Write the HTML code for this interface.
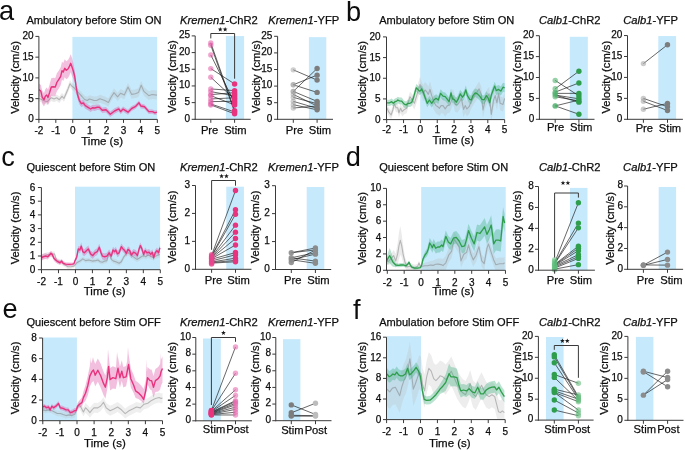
<!DOCTYPE html>
<html><head><meta charset="utf-8"><style>
html,body{margin:0;padding:0;background:#fff;}
svg{display:block;will-change:transform;}
text{font-family:"Liberation Sans", sans-serif;fill:#0d0d0d;stroke:#0d0d0d;stroke-width:0.25px;}
</style></head><body>
<svg width="685" height="450" viewBox="0 0 685 450">
<text x="-0.90" y="20.20" font-size="27.2" text-anchor="start" style="stroke-width:0">a</text>
<text x="346.00" y="20.70" font-size="27.2" text-anchor="start" style="stroke-width:0">b</text>
<text x="1.30" y="165.60" font-size="27.2" text-anchor="start" style="stroke-width:0">c</text>
<text x="345.70" y="166.00" font-size="27.2" text-anchor="start" style="stroke-width:0">d</text>
<text x="2.50" y="317.50" font-size="27.2" text-anchor="start" style="stroke-width:0">e</text>
<text x="353.10" y="318.60" font-size="27.2" text-anchor="start" style="stroke-width:0">f</text>
<text x="26.40" y="23.60" font-size="11.05" text-anchor="start" >Ambulatory before Stim ON</text>
<text x="180.00" y="23.60" font-size="11.2"><tspan font-style="italic">Kremen1</tspan>-ChR2</text>
<text x="268.30" y="23.60" font-size="11.2"><tspan font-style="italic">Kremen1</tspan>-YFP</text>
<text x="379.20" y="23.60" font-size="11.05" text-anchor="start" >Ambulatory before Stim ON</text>
<text x="538.90" y="23.60" font-size="11.2"><tspan font-style="italic">Calb1</tspan>-ChR2</text>
<text x="623.20" y="23.60" font-size="11.2"><tspan font-style="italic">Calb1</tspan>-YFP</text>
<text x="26.40" y="171.20" font-size="11.05" text-anchor="start" >Quiescent before Stim ON</text>
<text x="180.10" y="170.90" font-size="11.2"><tspan font-style="italic">Kremen1</tspan>-ChR2</text>
<text x="268.00" y="170.90" font-size="11.2"><tspan font-style="italic">Kremen1</tspan>-YFP</text>
<text x="379.20" y="170.80" font-size="11.05" text-anchor="start" >Quiescent before Stim ON</text>
<text x="538.90" y="170.90" font-size="11.2"><tspan font-style="italic">Calb1</tspan>-ChR2</text>
<text x="623.10" y="170.90" font-size="11.2"><tspan font-style="italic">Calb1</tspan>-YFP</text>
<text x="26.40" y="325.60" font-size="11.05" text-anchor="start" >Quiescent before Stim OFF</text>
<text x="180.10" y="325.60" font-size="11.2"><tspan font-style="italic">Kremen1</tspan>-ChR2</text>
<text x="268.00" y="325.60" font-size="11.2"><tspan font-style="italic">Kremen1</tspan>-YFP</text>
<text x="379.20" y="325.50" font-size="11.05" text-anchor="start" >Ambulation before Stim OFF</text>
<text x="538.90" y="325.60" font-size="11.2"><tspan font-style="italic">Calb1</tspan>-ChR2</text>
<text x="623.10" y="325.60" font-size="11.2"><tspan font-style="italic">Calb1</tspan>-YFP</text>
<rect x="72.40" y="36.90" width="84.80" height="82.50" fill="#c6e9fb"/>
<clipPath id="c25"><rect x="38.90" y="30.40" width="120.44" height="88.70"/></clipPath>
<g clip-path="url(#c25)">
<polygon points="39.0,95.3 42.0,96.7 44.7,97.9 47.3,98.6 49.3,96.5 51.3,94.5 54.0,95.8 56.7,94.4 59.3,96.4 62.0,93.0 64.0,94.9 66.0,90.3 68.0,85.6 70.0,80.2 72.0,82.8 74.0,84.2 76.7,87.4 79.3,90.1 82.0,92.8 84.7,95.8 87.3,96.7 89.3,95.2 91.3,95.7 94.0,96.6 96.7,96.6 99.9,94.7 104.8,96.6 108.4,98.3 110.9,93.4 114.0,88.5 117.6,92.7 120.7,89.0 124.3,90.9 128.0,82.9 131.7,90.1 135.3,89.5 138.4,88.3 141.2,80.9 143.9,87.0 148.8,91.3 152.0,90.0 156.9,90.6 156.9,99.6 152.0,99.0 148.8,100.1 143.9,95.8 141.2,89.7 138.4,96.9 135.3,98.1 131.7,98.7 128.0,91.3 124.3,99.3 120.7,97.4 117.6,101.1 114.0,96.7 110.9,101.6 108.4,106.5 104.8,104.6 99.9,102.7 96.7,104.4 94.0,104.4 91.3,103.3 89.3,102.8 87.3,104.3 84.7,103.2 82.0,100.2 79.3,97.3 76.7,94.6 74.0,91.2 72.0,89.8 70.0,87.2 68.0,92.4 66.0,97.1 64.0,101.7 62.0,99.6 59.3,103.0 56.7,101.0 54.0,102.2 51.3,100.9 49.3,102.9 47.3,104.8 44.7,104.1 42.0,102.7 39.0,101.3" fill="#b8b8b8" fill-opacity="0.28" stroke="none"/><polyline points="39.0,98.3 42.0,99.7 44.7,101.0 47.3,101.7 49.3,99.7 51.3,97.7 54.0,99.0 56.7,97.7 59.3,99.7 62.0,96.3 64.0,98.3 66.0,93.7 68.0,89.0 70.0,83.7 72.0,86.3 74.0,87.7 76.7,91.0 79.3,93.7 82.0,96.5 84.7,99.5 87.3,100.5 89.3,99.0 91.3,99.5 94.0,100.5 96.7,100.5 99.9,98.7 104.8,100.6 108.4,102.4 110.9,97.5 114.0,92.6 117.6,96.9 120.7,93.2 124.3,95.1 128.0,87.1 131.7,94.4 135.3,93.8 138.4,92.6 141.2,85.3 143.9,91.4 148.8,95.7 152.0,94.5 156.9,95.1" fill="none" stroke="#7a7a7a" stroke-width="1.1" stroke-opacity="0.47" stroke-linejoin="round"/>
<polygon points="39.0,83.5 40.9,85.0 42.3,90.9 44.0,92.9 45.3,89.2 46.7,87.5 48.0,89.5 49.7,84.0 51.3,78.2 53.3,77.7 55.3,78.0 56.9,73.3 58.7,70.7 60.7,67.3 62.0,61.7 63.3,63.1 64.7,59.3 66.3,61.3 68.0,60.0 69.3,57.7 70.7,54.3 72.0,58.0 73.3,63.3 74.7,70.0 76.0,80.7 77.3,89.1 79.3,96.4 81.3,100.5 83.3,100.0 85.3,102.7 88.0,104.4 90.7,106.1 92.7,104.8 94.7,105.1 97.3,104.5 99.3,104.5 102.3,107.5 106.0,107.0 110.3,111.6 114.6,108.3 118.8,106.3 120.7,109.0 123.1,106.5 128.0,109.7 131.7,106.0 135.3,104.3 139.0,100.4 140.8,103.6 144.5,104.4 148.8,109.3 152.5,109.4 154.9,110.6 156.9,110.0 156.9,114.4 154.9,115.0 152.5,113.8 148.8,113.9 144.5,109.0 140.8,108.4 139.0,105.2 135.3,109.1 131.7,111.0 128.0,114.7 123.1,111.7 120.7,114.2 118.8,111.5 114.6,113.7 110.3,117.0 106.0,112.4 102.3,113.1 99.3,110.1 97.3,110.1 94.7,110.9 92.7,110.6 90.7,111.9 88.0,110.2 85.3,108.7 83.3,106.0 81.3,106.9 79.3,104.2 77.3,98.3 76.0,90.7 74.7,82.6 73.3,78.7 72.0,76.0 70.7,72.3 69.3,75.7 68.0,78.0 66.3,79.3 64.7,77.3 63.3,81.1 62.0,79.7 60.7,85.3 58.7,88.7 56.9,91.3 55.3,96.0 53.3,95.7 51.3,95.8 49.7,100.6 48.0,105.3 46.7,102.5 45.3,103.4 44.0,106.5 42.3,104.0 40.9,97.6 39.0,95.5" fill="#dc5aa8" fill-opacity="0.38" stroke="none"/><polyline points="39.0,89.5 40.9,91.3 42.3,97.4 44.0,99.7 45.3,96.3 46.7,95.0 48.0,97.4 49.7,92.3 51.3,87.0 53.3,86.7 55.3,87.0 56.9,82.3 58.7,79.7 60.7,76.3 62.0,70.7 63.3,72.1 64.7,68.3 66.3,70.3 68.0,69.0 69.3,66.7 70.7,63.3 72.0,67.0 73.3,71.0 74.7,76.3 76.0,85.7 77.3,93.7 79.3,100.3 81.3,103.7 83.3,103.0 85.3,105.7 88.0,107.3 90.7,109.0 92.7,107.7 94.7,108.0 97.3,107.3 99.3,107.3 102.3,110.3 106.0,109.7 110.3,114.3 114.6,111.0 118.8,108.9 120.7,111.6 123.1,109.1 128.0,112.2 131.7,108.5 135.3,106.7 139.0,102.8 140.8,106.0 144.5,106.7 148.8,111.6 152.5,111.6 154.9,112.8 156.9,112.2" fill="none" stroke="#e8337f" stroke-width="1.4" stroke-opacity="1.0" stroke-linejoin="round"/>
</g>
<line x1="38.90" y1="36.40" x2="38.90" y2="119.90" stroke="#3a3a3a" stroke-width="1" />
<line x1="35.40" y1="119.40" x2="38.90" y2="119.40" stroke="#3a3a3a" stroke-width="1" />
<text x="33.70" y="122.40" font-size="10.0" text-anchor="end" >0</text>
<line x1="35.40" y1="98.65" x2="38.90" y2="98.65" stroke="#3a3a3a" stroke-width="1" />
<text x="33.70" y="101.65" font-size="10.0" text-anchor="end" >5</text>
<line x1="35.40" y1="77.90" x2="38.90" y2="77.90" stroke="#3a3a3a" stroke-width="1" />
<text x="33.70" y="80.90" font-size="10.0" text-anchor="end" >10</text>
<line x1="35.40" y1="57.15" x2="38.90" y2="57.15" stroke="#3a3a3a" stroke-width="1" />
<text x="33.70" y="60.15" font-size="10.0" text-anchor="end" >15</text>
<line x1="35.40" y1="36.40" x2="38.90" y2="36.40" stroke="#3a3a3a" stroke-width="1" />
<text x="33.70" y="39.40" font-size="10.0" text-anchor="end" >20</text>
<text x="0" y="0" font-size="11.2" text-anchor="middle" transform="translate(18.80,77.50) rotate(-90)">Velocity (cm/s)</text>
<line x1="38.40" y1="119.40" x2="157.34" y2="119.40" stroke="#3a3a3a" stroke-width="1" />
<line x1="38.90" y1="119.40" x2="38.90" y2="122.90" stroke="#3a3a3a" stroke-width="1" />
<text x="38.90" y="134.40" font-size="10.0" text-anchor="middle" >-2</text>
<line x1="55.82" y1="119.40" x2="55.82" y2="122.90" stroke="#3a3a3a" stroke-width="1" />
<text x="55.82" y="134.40" font-size="10.0" text-anchor="middle" >-1</text>
<line x1="72.74" y1="119.40" x2="72.74" y2="122.90" stroke="#3a3a3a" stroke-width="1" />
<text x="72.74" y="134.40" font-size="10.0" text-anchor="middle" >0</text>
<line x1="89.66" y1="119.40" x2="89.66" y2="122.90" stroke="#3a3a3a" stroke-width="1" />
<text x="89.66" y="134.40" font-size="10.0" text-anchor="middle" >1</text>
<line x1="106.58" y1="119.40" x2="106.58" y2="122.90" stroke="#3a3a3a" stroke-width="1" />
<text x="106.58" y="134.40" font-size="10.0" text-anchor="middle" >2</text>
<line x1="123.50" y1="119.40" x2="123.50" y2="122.90" stroke="#3a3a3a" stroke-width="1" />
<text x="123.50" y="134.40" font-size="10.0" text-anchor="middle" >3</text>
<line x1="140.42" y1="119.40" x2="140.42" y2="122.90" stroke="#3a3a3a" stroke-width="1" />
<text x="140.42" y="134.40" font-size="10.0" text-anchor="middle" >4</text>
<line x1="157.34" y1="119.40" x2="157.34" y2="122.90" stroke="#3a3a3a" stroke-width="1" />
<text x="157.34" y="134.40" font-size="10.0" text-anchor="middle" >5</text>
<text x="102.12" y="144.90" font-size="11.5" text-anchor="middle" >Time (s)</text>
<rect x="420.20" y="36.70" width="84.70" height="82.90" fill="#c6e9fb"/>
<clipPath id="c61"><rect x="386.50" y="30.90" width="120.15" height="88.40"/></clipPath>
<g clip-path="url(#c61)">
<polygon points="386.7,103.8 388.9,108.1 391.1,110.8 392.8,105.7 394.4,99.6 396.1,103.4 397.8,103.3 398.9,108.3 400.6,103.7 402.2,107.0 404.4,104.6 406.7,103.4 408.3,97.3 410.0,91.7 412.2,94.3 414.4,97.0 416.7,88.6 418.3,82.5 420.0,76.4 421.7,82.0 423.3,85.3 425.0,82.1 426.7,83.8 428.3,86.5 430.0,81.5 431.7,87.7 433.9,94.4 436.1,97.8 437.8,98.9 439.4,100.5 441.1,97.9 443.0,97.9 445.2,101.2 447.4,97.9 449.7,97.4 451.3,93.5 453.0,89.1 455.2,96.8 457.4,97.4 459.7,94.2 461.3,90.8 463.6,101.9 465.2,98.1 466.9,101.5 469.1,99.3 471.3,93.7 473.6,89.8 476.3,86.0 479.1,81.6 481.3,87.1 483.0,102.8 484.7,95.0 486.9,90.0 489.1,86.7 491.3,107.2 493.6,92.9 495.2,88.5 496.9,95.7 498.6,86.8 500.2,96.3 503.0,97.4 504.6,91.3 504.6,105.3 503.0,111.4 500.2,110.3 498.6,101.0 496.9,109.9 495.2,102.7 493.6,107.1 491.3,121.6 489.1,101.1 486.9,104.4 484.7,109.4 483.0,117.2 481.3,101.7 479.1,96.2 476.3,100.6 473.6,104.6 471.3,108.5 469.1,114.1 466.9,116.3 465.2,113.1 463.6,116.9 461.3,105.8 459.7,109.2 457.4,112.6 455.2,112.0 453.0,104.3 451.3,108.7 449.7,112.6 447.4,113.3 445.2,116.6 443.0,113.3 441.1,113.3 439.4,116.1 437.8,114.5 436.1,113.4 433.9,110.0 431.7,103.5 430.0,97.3 428.3,102.3 426.7,99.6 425.0,97.9 423.3,101.3 421.7,98.0 420.0,92.4 418.3,97.5 416.7,102.6 414.4,109.6 412.2,105.7 410.0,101.7 408.3,107.1 406.7,113.2 404.4,114.2 402.2,116.4 400.6,112.9 398.9,117.3 397.8,112.3 396.1,112.2 394.4,108.2 392.8,114.3 391.1,119.2 388.9,116.3 386.7,111.8" fill="#b8b8b8" fill-opacity="0.28" stroke="none"/><polyline points="386.7,107.8 388.9,112.2 391.1,115.0 392.8,110.0 394.4,103.9 396.1,107.8 397.8,107.8 398.9,112.8 400.6,108.3 402.2,111.7 404.4,109.4 406.7,108.3 408.3,102.2 410.0,96.7 412.2,100.0 414.4,103.3 416.7,95.6 418.3,90.0 420.0,84.4 421.7,90.0 423.3,93.3 425.0,90.0 426.7,91.7 428.3,94.4 430.0,89.4 431.7,95.6 433.9,102.2 436.1,105.6 437.8,106.7 439.4,108.3 441.1,105.6 443.0,105.6 445.2,108.9 447.4,105.6 449.7,105.0 451.3,101.1 453.0,96.7 455.2,104.4 457.4,105.0 459.7,101.7 461.3,98.3 463.6,109.4 465.2,105.6 466.9,108.9 469.1,106.7 471.3,101.1 473.6,97.2 476.3,93.3 479.1,88.9 481.3,94.4 483.0,110.0 484.7,102.2 486.9,97.2 489.1,93.9 491.3,114.4 493.6,100.0 495.2,95.6 496.9,102.8 498.6,93.9 500.2,103.3 503.0,104.4 504.6,98.3" fill="none" stroke="#7a7a7a" stroke-width="1.1" stroke-opacity="0.47" stroke-linejoin="round"/>
<polygon points="386.7,99.8 389.4,99.7 391.7,98.5 393.3,100.1 395.0,98.4 396.7,97.8 397.8,96.7 399.4,97.5 401.7,97.6 403.9,100.4 406.1,101.4 407.8,99.7 410.0,99.6 411.7,98.4 413.3,94.5 415.0,88.3 416.3,83.9 417.8,85.5 419.4,87.1 420.6,86.6 421.7,84.9 423.3,88.2 425.0,93.2 427.2,99.3 429.4,95.9 431.7,99.2 433.9,95.9 436.1,94.2 438.3,95.9 440.6,89.2 443.0,92.0 445.2,92.5 447.4,95.2 449.1,97.5 451.0,88.6 452.4,94.7 454.1,95.2 456.3,98.0 458.0,95.2 460.2,89.7 462.4,92.9 464.1,90.7 465.8,85.5 467.4,91.3 469.7,95.1 471.3,95.7 473.0,91.3 475.2,88.5 477.4,89.6 479.7,91.7 481.9,95.0 484.1,95.4 486.3,91.2 488.0,93.4 489.7,98.4 491.3,90.6 493.0,86.2 494.7,81.7 496.3,86.1 498.6,84.9 500.8,86.6 503.0,82.7 504.6,83.3 504.6,92.3 503.0,91.7 500.8,95.6 498.6,93.9 496.3,95.1 494.7,90.5 493.0,95.0 491.3,99.4 489.7,107.2 488.0,102.2 486.3,100.0 484.1,104.2 481.9,103.8 479.7,100.5 477.4,98.2 475.2,97.1 473.0,99.9 471.3,104.3 469.7,103.7 467.4,99.9 465.8,94.1 464.1,99.3 462.4,101.5 460.2,98.1 458.0,103.6 456.3,106.4 454.1,103.6 452.4,103.1 451.0,97.0 449.1,105.9 447.4,103.6 445.2,100.9 443.0,100.2 440.6,97.4 438.3,104.1 436.1,102.4 433.9,104.1 431.7,107.4 429.4,104.1 427.2,107.3 425.0,101.2 423.3,96.2 421.7,92.9 420.6,94.6 419.4,95.1 417.8,93.3 416.3,91.7 415.0,96.1 413.3,102.1 411.7,106.0 410.0,107.0 407.8,106.9 406.1,108.6 403.9,107.4 401.7,104.6 399.4,104.3 397.8,103.3 396.7,104.4 395.0,105.0 393.3,106.5 391.7,104.9 389.4,105.9 386.7,105.8" fill="#40b080" fill-opacity="0.36" stroke="none"/><polyline points="386.7,102.8 389.4,102.8 391.7,101.7 393.3,103.3 395.0,101.7 396.7,101.1 397.8,100.0 399.4,100.9 401.7,101.1 403.9,103.9 406.1,105.0 407.8,103.3 410.0,103.3 411.7,102.2 413.3,98.3 415.0,92.2 416.3,87.8 417.8,89.4 419.4,91.1 420.6,90.6 421.7,88.9 423.3,92.2 425.0,97.2 427.2,103.3 429.4,100.0 431.7,103.3 433.9,100.0 436.1,98.3 438.3,100.0 440.6,93.3 443.0,96.1 445.2,96.7 447.4,99.4 449.1,101.7 451.0,92.8 452.4,98.9 454.1,99.4 456.3,102.2 458.0,99.4 460.2,93.9 462.4,97.2 464.1,95.0 465.8,89.8 467.4,95.6 469.7,99.4 471.3,100.0 473.0,95.6 475.2,92.8 477.4,93.9 479.7,96.1 481.9,99.4 484.1,99.8 486.3,95.6 488.0,97.8 489.7,102.8 491.3,95.0 493.0,90.6 494.7,86.1 496.3,90.6 498.6,89.4 500.8,91.1 503.0,87.2 504.6,87.8" fill="none" stroke="#2f9e4c" stroke-width="1.3" stroke-opacity="1.0" stroke-linejoin="round"/>
</g>
<line x1="386.50" y1="36.90" x2="386.50" y2="120.10" stroke="#3a3a3a" stroke-width="1" />
<line x1="383.00" y1="119.60" x2="386.50" y2="119.60" stroke="#3a3a3a" stroke-width="1" />
<text x="380.50" y="122.60" font-size="10.0" text-anchor="end" >0</text>
<line x1="383.00" y1="98.92" x2="386.50" y2="98.92" stroke="#3a3a3a" stroke-width="1" />
<text x="380.50" y="101.92" font-size="10.0" text-anchor="end" >5</text>
<line x1="383.00" y1="78.25" x2="386.50" y2="78.25" stroke="#3a3a3a" stroke-width="1" />
<text x="380.50" y="81.25" font-size="10.0" text-anchor="end" >10</text>
<line x1="383.00" y1="57.58" x2="386.50" y2="57.58" stroke="#3a3a3a" stroke-width="1" />
<text x="380.50" y="60.58" font-size="10.0" text-anchor="end" >15</text>
<line x1="383.00" y1="36.90" x2="386.50" y2="36.90" stroke="#3a3a3a" stroke-width="1" />
<text x="380.50" y="39.90" font-size="10.0" text-anchor="end" >20</text>
<text x="0" y="0" font-size="11.2" text-anchor="middle" transform="translate(366.00,77.50) rotate(-90)">Velocity (cm/s)</text>
<line x1="386.00" y1="119.60" x2="504.65" y2="119.60" stroke="#3a3a3a" stroke-width="1" />
<line x1="386.70" y1="119.60" x2="386.70" y2="123.10" stroke="#3a3a3a" stroke-width="1" />
<text x="386.70" y="133.20" font-size="10.0" text-anchor="middle" >-2</text>
<line x1="403.55" y1="119.60" x2="403.55" y2="123.10" stroke="#3a3a3a" stroke-width="1" />
<text x="403.55" y="133.20" font-size="10.0" text-anchor="middle" >-1</text>
<line x1="420.40" y1="119.60" x2="420.40" y2="123.10" stroke="#3a3a3a" stroke-width="1" />
<text x="420.40" y="133.20" font-size="10.0" text-anchor="middle" >0</text>
<line x1="437.25" y1="119.60" x2="437.25" y2="123.10" stroke="#3a3a3a" stroke-width="1" />
<text x="437.25" y="133.20" font-size="10.0" text-anchor="middle" >1</text>
<line x1="454.10" y1="119.60" x2="454.10" y2="123.10" stroke="#3a3a3a" stroke-width="1" />
<text x="454.10" y="133.20" font-size="10.0" text-anchor="middle" >2</text>
<line x1="470.95" y1="119.60" x2="470.95" y2="123.10" stroke="#3a3a3a" stroke-width="1" />
<text x="470.95" y="133.20" font-size="10.0" text-anchor="middle" >3</text>
<line x1="487.80" y1="119.60" x2="487.80" y2="123.10" stroke="#3a3a3a" stroke-width="1" />
<text x="487.80" y="133.20" font-size="10.0" text-anchor="middle" >4</text>
<line x1="504.65" y1="119.60" x2="504.65" y2="123.10" stroke="#3a3a3a" stroke-width="1" />
<text x="504.65" y="133.20" font-size="10.0" text-anchor="middle" >5</text>
<text x="453.28" y="143.50" font-size="11.5" text-anchor="middle" >Time (s)</text>
<rect x="75.00" y="186.70" width="85.10" height="83.00" fill="#c6e9fb"/>
<clipPath id="c97"><rect x="41.40" y="181.50" width="120.89" height="87.90"/></clipPath>
<g clip-path="url(#c97)">
<polygon points="41.7,254.2 46.7,252.2 51.1,251.7 54.4,251.3 56.7,258.1 60.0,259.3 64.4,262.1 67.8,264.5 71.1,264.6 73.9,264.1 76.7,260.8 80.0,259.0 82.8,256.8 85.6,258.5 88.9,257.8 92.2,258.9 95.6,258.4 98.0,257.7 100.2,259.4 102.4,259.9 104.7,258.8 106.9,258.2 109.1,250.4 111.3,257.0 113.6,258.6 115.8,259.2 119.1,260.8 121.3,259.2 123.6,254.6 125.8,251.8 128.0,250.2 130.2,251.8 132.4,253.4 134.7,255.1 136.9,256.7 139.1,255.5 141.3,253.9 143.6,252.8 145.8,253.9 148.0,252.1 150.2,253.2 152.4,254.3 154.7,253.8 156.9,252.6 159.9,251.4 159.9,257.4 156.9,258.6 154.7,259.6 152.4,260.1 150.2,259.0 148.0,257.9 145.8,259.5 143.6,258.4 141.3,259.5 139.1,261.1 136.9,262.1 134.7,260.5 132.4,258.8 130.2,257.0 128.0,255.4 125.8,257.0 123.6,259.8 121.3,264.2 119.1,265.8 115.8,264.2 113.6,263.6 111.3,261.8 109.1,255.2 106.9,263.0 104.7,263.4 102.4,264.5 100.2,264.0 98.0,262.3 95.6,262.8 92.2,263.3 88.9,262.2 85.6,262.7 82.8,261.0 80.0,263.2 76.7,264.8 73.9,268.1 71.1,268.8 67.8,268.9 64.4,266.7 60.0,264.1 56.7,263.1 54.4,256.5 51.1,257.1 46.7,257.8 41.7,260.2" fill="#b8b8b8" fill-opacity="0.26" stroke="none"/><polyline points="41.7,257.2 46.7,255.0 51.1,254.4 54.4,253.9 56.7,260.6 60.0,261.7 64.4,264.4 67.8,266.7 71.1,266.7 73.9,266.1 76.7,262.8 80.0,261.1 82.8,258.9 85.6,260.6 88.9,260.0 92.2,261.1 95.6,260.6 98.0,260.0 100.2,261.7 102.4,262.2 104.7,261.1 106.9,260.6 109.1,252.8 111.3,259.4 113.6,261.1 115.8,261.7 119.1,263.3 121.3,261.7 123.6,257.2 125.8,254.4 128.0,252.8 130.2,254.4 132.4,256.1 134.7,257.8 136.9,259.4 139.1,258.3 141.3,256.7 143.6,255.6 145.8,256.7 148.0,255.0 150.2,256.1 152.4,257.2 154.7,256.7 156.9,255.6 159.9,254.4" fill="none" stroke="#7a7a7a" stroke-width="1.1" stroke-opacity="0.47" stroke-linejoin="round"/>
<polygon points="41.7,254.8 43.3,253.8 45.6,253.3 47.8,254.0 49.4,252.4 50.9,250.7 52.2,251.9 53.9,255.9 55.6,257.6 57.8,259.4 60.0,260.6 61.7,259.0 63.3,261.3 65.6,262.2 68.9,262.6 72.2,262.5 73.9,262.4 75.0,259.1 76.7,255.0 78.3,246.1 79.8,246.6 81.3,242.6 82.8,248.2 84.4,249.3 86.1,247.6 88.3,245.5 90.6,250.5 92.8,252.2 95.0,249.4 97.2,248.3 99.3,243.8 100.8,248.8 102.4,252.7 104.7,253.4 106.9,252.8 109.1,249.5 111.3,252.8 113.0,246.7 114.7,248.4 115.8,246.7 117.4,250.6 119.1,249.5 121.3,243.5 123.0,245.7 124.7,247.4 126.3,250.1 128.0,246.2 129.7,247.4 131.3,251.8 133.6,249.0 135.8,250.1 137.4,252.5 139.1,245.8 140.4,242.5 141.9,245.8 143.6,251.3 145.2,247.5 146.9,249.7 149.1,249.1 150.8,251.3 152.4,249.2 153.6,254.8 155.2,249.8 156.9,247.6 158.6,249.8 159.9,244.8 159.9,250.8 158.6,255.8 156.9,253.6 155.2,255.8 153.6,260.8 152.4,255.2 150.8,257.5 149.1,255.3 146.9,255.9 145.2,253.7 143.6,257.5 141.9,252.0 140.4,248.7 139.1,252.0 137.4,258.7 135.8,256.5 133.6,255.4 131.3,258.2 129.7,253.8 128.0,252.6 126.3,256.5 124.7,253.8 123.0,252.1 121.3,249.9 119.1,256.1 117.4,257.2 115.8,253.3 114.7,255.0 113.0,253.3 111.3,259.4 109.1,256.1 106.9,259.4 104.7,260.0 102.4,259.5 100.8,255.6 99.3,250.6 97.2,255.1 95.0,256.2 92.8,259.0 90.6,257.3 88.3,252.3 86.1,254.6 84.4,256.3 82.8,255.2 81.3,249.6 79.8,253.4 78.3,251.7 76.7,259.4 75.0,262.1 73.9,265.4 72.2,265.7 68.9,266.2 65.6,266.0 63.3,265.3 61.7,263.2 60.0,265.0 57.8,264.0 55.6,262.4 53.9,260.7 52.2,256.9 50.9,255.9 49.4,257.6 47.8,259.4 45.6,258.9 43.3,259.6 41.7,260.8" fill="#dc5aa8" fill-opacity="0.38" stroke="none"/><polyline points="41.7,257.8 43.3,256.7 45.6,256.1 47.8,256.7 49.4,255.0 50.9,253.3 52.2,254.4 53.9,258.3 55.6,260.0 57.8,261.7 60.0,262.8 61.7,261.1 63.3,263.3 65.6,264.1 68.9,264.4 72.2,264.1 73.9,263.9 75.0,260.6 76.7,257.2 78.3,248.9 79.8,250.0 81.3,246.1 82.8,251.7 84.4,252.8 86.1,251.1 88.3,248.9 90.6,253.9 92.8,255.6 95.0,252.8 97.2,251.7 99.3,247.2 100.8,252.2 102.4,256.1 104.7,256.7 106.9,256.1 109.1,252.8 111.3,256.1 113.0,250.0 114.7,251.7 115.8,250.0 117.4,253.9 119.1,252.8 121.3,246.7 123.0,248.9 124.7,250.6 126.3,253.3 128.0,249.4 129.7,250.6 131.3,255.0 133.6,252.2 135.8,253.3 137.4,255.6 139.1,248.9 140.4,245.6 141.9,248.9 143.6,254.4 145.2,250.6 146.9,252.8 149.1,252.2 150.8,254.4 152.4,252.2 153.6,257.8 155.2,252.8 156.9,250.6 158.6,252.8 159.9,247.8" fill="none" stroke="#e8337f" stroke-width="1.4" stroke-opacity="1.0" stroke-linejoin="round"/>
</g>
<line x1="41.40" y1="187.50" x2="41.40" y2="270.20" stroke="#3a3a3a" stroke-width="1" />
<line x1="37.90" y1="269.70" x2="41.40" y2="269.70" stroke="#3a3a3a" stroke-width="1" />
<text x="35.40" y="272.70" font-size="10.0" text-anchor="end" >0</text>
<line x1="37.90" y1="256.00" x2="41.40" y2="256.00" stroke="#3a3a3a" stroke-width="1" />
<text x="35.40" y="259.00" font-size="10.0" text-anchor="end" >1</text>
<line x1="37.90" y1="242.30" x2="41.40" y2="242.30" stroke="#3a3a3a" stroke-width="1" />
<text x="35.40" y="245.30" font-size="10.0" text-anchor="end" >2</text>
<line x1="37.90" y1="228.60" x2="41.40" y2="228.60" stroke="#3a3a3a" stroke-width="1" />
<text x="35.40" y="231.60" font-size="10.0" text-anchor="end" >3</text>
<line x1="37.90" y1="214.90" x2="41.40" y2="214.90" stroke="#3a3a3a" stroke-width="1" />
<text x="35.40" y="217.90" font-size="10.0" text-anchor="end" >4</text>
<line x1="37.90" y1="201.20" x2="41.40" y2="201.20" stroke="#3a3a3a" stroke-width="1" />
<text x="35.40" y="204.20" font-size="10.0" text-anchor="end" >5</text>
<line x1="37.90" y1="187.50" x2="41.40" y2="187.50" stroke="#3a3a3a" stroke-width="1" />
<text x="35.40" y="190.50" font-size="10.0" text-anchor="end" >6</text>
<text x="0" y="0" font-size="11.2" text-anchor="middle" transform="translate(19.10,228.00) rotate(-90)">Velocity (cm/s)</text>
<line x1="40.90" y1="269.70" x2="160.29" y2="269.70" stroke="#3a3a3a" stroke-width="1" />
<line x1="41.50" y1="269.70" x2="41.50" y2="273.20" stroke="#3a3a3a" stroke-width="1" />
<text x="41.50" y="284.70" font-size="10.0" text-anchor="middle" >-2</text>
<line x1="58.47" y1="269.70" x2="58.47" y2="273.20" stroke="#3a3a3a" stroke-width="1" />
<text x="58.47" y="284.70" font-size="10.0" text-anchor="middle" >-1</text>
<line x1="75.44" y1="269.70" x2="75.44" y2="273.20" stroke="#3a3a3a" stroke-width="1" />
<text x="75.44" y="284.70" font-size="10.0" text-anchor="middle" >0</text>
<line x1="92.41" y1="269.70" x2="92.41" y2="273.20" stroke="#3a3a3a" stroke-width="1" />
<text x="92.41" y="284.70" font-size="10.0" text-anchor="middle" >1</text>
<line x1="109.38" y1="269.70" x2="109.38" y2="273.20" stroke="#3a3a3a" stroke-width="1" />
<text x="109.38" y="284.70" font-size="10.0" text-anchor="middle" >2</text>
<line x1="126.35" y1="269.70" x2="126.35" y2="273.20" stroke="#3a3a3a" stroke-width="1" />
<text x="126.35" y="284.70" font-size="10.0" text-anchor="middle" >3</text>
<line x1="143.32" y1="269.70" x2="143.32" y2="273.20" stroke="#3a3a3a" stroke-width="1" />
<text x="143.32" y="284.70" font-size="10.0" text-anchor="middle" >4</text>
<line x1="160.29" y1="269.70" x2="160.29" y2="273.20" stroke="#3a3a3a" stroke-width="1" />
<text x="160.29" y="284.70" font-size="10.0" text-anchor="middle" >5</text>
<text x="104.64" y="295.10" font-size="11.5" text-anchor="middle" >Time (s)</text>
<rect x="421.20" y="187.00" width="84.50" height="83.30" fill="#c6e9fb"/>
<clipPath id="c137"><rect x="386.50" y="182.40" width="120.96" height="87.60"/></clipPath>
<g clip-path="url(#c137)">
<polygon points="386.8,258.4 389.0,257.0 391.7,252.8 393.7,250.1 395.7,253.7 397.7,242.8 399.0,232.5 400.3,225.9 401.7,234.1 403.0,244.7 405.0,257.3 407.0,262.4 409.7,262.2 412.3,263.9 415.0,264.7 417.7,263.8 419.0,260.8 420.3,264.2 422.3,263.8 425.0,262.7 427.7,262.2 430.3,260.9 433.0,260.8 435.7,259.2 438.3,258.4 441.0,258.4 443.0,259.0 445.8,255.8 448.7,248.3 451.5,244.5 454.3,232.3 456.6,236.1 459.1,239.9 461.0,254.2 463.8,247.6 466.6,245.8 468.5,238.2 471.0,247.7 473.2,253.4 476.1,248.7 478.9,240.3 481.8,254.5 484.2,257.4 486.9,242.3 488.4,237.6 491.2,246.2 493.7,253.7 495.9,258.6 499.7,257.6 503.5,257.7 504.6,256.8 504.6,268.8 503.5,269.7 499.7,269.8 495.9,270.8 493.7,266.1 491.2,258.6 488.4,250.2 486.9,254.9 484.2,270.0 481.8,267.3 478.9,253.1 476.1,261.7 473.2,266.4 471.0,260.9 468.5,251.4 466.6,259.0 463.8,261.0 461.0,267.6 459.1,253.5 456.6,249.7 454.3,245.9 451.5,258.3 448.7,262.1 445.8,269.8 443.0,272.2 441.0,270.8 438.3,269.8 435.7,269.4 433.0,270.0 430.3,269.1 427.7,269.2 425.0,268.7 422.3,268.8 420.3,268.4 419.0,265.2 417.7,268.8 415.0,270.7 412.3,270.9 409.7,270.4 407.0,271.6 405.0,267.3 403.0,262.7 401.7,257.3 400.3,254.7 399.0,258.9 397.7,264.6 395.7,268.3 393.7,261.3 391.7,262.6 389.0,265.0 386.8,265.0" fill="#b8b8b8" fill-opacity="0.28" stroke="none"/><polyline points="386.8,261.7 389.0,261.0 391.7,257.7 393.7,255.7 395.7,261.0 397.7,253.7 399.0,245.7 400.3,240.3 401.7,245.7 403.0,253.7 405.0,262.3 407.0,267.0 409.7,266.3 412.3,267.4 415.0,267.7 417.7,266.3 419.0,263.0 420.3,266.3 422.3,266.3 425.0,265.7 427.7,265.7 430.3,265.0 433.0,265.4 435.7,264.3 438.3,264.1 441.0,264.6 443.0,265.6 445.8,262.8 448.7,255.2 451.5,251.4 454.3,239.1 456.6,242.9 459.1,246.7 461.0,260.9 463.8,254.3 466.6,252.4 468.5,244.8 471.0,254.3 473.2,259.9 476.1,255.2 478.9,246.7 481.8,260.9 484.2,263.7 486.9,248.6 488.4,243.9 491.2,252.4 493.7,259.9 495.9,264.7 499.7,263.7 503.5,263.7 504.6,262.8" fill="none" stroke="#7a7a7a" stroke-width="1.1" stroke-opacity="0.47" stroke-linejoin="round"/>
<polygon points="386.8,257.0 387.9,252.9 389.7,248.1 391.0,251.5 393.0,257.9 395.7,263.0 398.3,263.5 401.0,263.1 403.7,263.2 405.7,264.1 407.7,262.6 409.0,260.6 410.3,263.3 411.7,265.3 414.3,266.5 417.7,266.6 420.3,266.1 421.7,262.9 423.0,256.4 425.0,251.8 427.0,248.4 428.3,244.6 429.7,238.1 431.0,239.9 432.3,242.6 433.7,239.1 435.7,243.0 437.7,241.6 439.7,241.5 441.7,239.4 443.0,241.0 445.8,230.5 448.3,236.1 450.6,237.9 453.4,232.0 456.2,231.0 459.1,234.5 461.9,240.1 464.7,239.1 466.6,232.3 468.5,223.7 471.4,231.0 474.2,236.3 477.0,224.6 479.9,225.2 482.7,221.0 484.6,218.0 486.9,225.1 489.3,220.1 491.2,215.2 493.7,233.7 495.9,229.6 498.8,229.3 500.7,230.3 503.1,207.1 504.6,214.1 504.6,232.1 503.1,225.9 500.7,251.7 498.8,250.9 495.9,250.6 493.7,254.1 491.2,234.8 489.3,239.3 486.9,243.7 484.6,235.8 482.7,238.4 479.9,241.8 477.0,240.4 474.2,251.5 471.4,245.4 468.5,237.5 466.6,245.9 464.7,252.5 461.9,253.3 459.1,247.5 456.2,243.6 453.4,244.4 450.6,249.9 448.3,247.9 445.8,242.1 443.0,252.3 441.7,250.6 439.7,252.5 437.7,252.4 435.7,253.6 433.7,249.5 432.3,252.8 431.0,250.1 429.7,247.9 428.3,253.4 427.0,256.2 425.0,258.2 423.0,261.6 421.7,267.1 420.3,269.3 417.7,269.6 414.3,269.7 411.7,268.7 410.3,266.7 409.0,264.0 407.7,266.0 405.7,267.7 403.7,266.8 401.0,266.9 398.3,267.3 395.7,267.0 393.0,266.7 391.0,265.1 389.7,263.3 387.9,263.7 386.8,265.0" fill="#40b080" fill-opacity="0.36" stroke="none"/><polyline points="386.8,261.0 387.9,258.3 389.7,255.7 391.0,258.3 393.0,262.3 395.7,265.0 398.3,265.4 401.0,265.0 403.7,265.0 405.7,265.9 407.7,264.3 409.0,262.3 410.3,265.0 411.7,267.0 414.3,268.1 417.7,268.1 420.3,267.7 421.7,265.0 423.0,259.0 425.0,255.0 427.0,252.3 428.3,249.0 429.7,243.0 431.0,245.0 432.3,247.7 433.7,244.3 435.7,248.3 437.7,247.0 439.7,247.0 441.7,245.0 443.0,246.7 445.8,236.3 448.3,242.0 450.6,243.9 453.4,238.2 456.2,237.3 459.1,241.0 461.9,246.7 464.7,245.8 466.6,239.1 468.5,230.6 471.4,238.2 474.2,243.9 477.0,232.5 479.9,233.5 482.7,229.7 484.6,226.9 486.9,234.4 489.3,229.7 491.2,225.0 493.7,243.9 495.9,240.1 498.8,240.1 500.7,241.0 503.1,216.5 504.6,223.1" fill="none" stroke="#2f9e4c" stroke-width="1.3" stroke-opacity="1.0" stroke-linejoin="round"/>
</g>
<line x1="386.50" y1="188.40" x2="386.50" y2="270.80" stroke="#3a3a3a" stroke-width="1" />
<line x1="383.00" y1="270.30" x2="386.50" y2="270.30" stroke="#3a3a3a" stroke-width="1" />
<text x="381.30" y="273.30" font-size="10.0" text-anchor="end" >0</text>
<line x1="383.00" y1="253.92" x2="386.50" y2="253.92" stroke="#3a3a3a" stroke-width="1" />
<text x="381.30" y="256.92" font-size="10.0" text-anchor="end" >2</text>
<line x1="383.00" y1="237.54" x2="386.50" y2="237.54" stroke="#3a3a3a" stroke-width="1" />
<text x="381.30" y="240.54" font-size="10.0" text-anchor="end" >4</text>
<line x1="383.00" y1="221.16" x2="386.50" y2="221.16" stroke="#3a3a3a" stroke-width="1" />
<text x="381.30" y="224.16" font-size="10.0" text-anchor="end" >6</text>
<line x1="383.00" y1="204.78" x2="386.50" y2="204.78" stroke="#3a3a3a" stroke-width="1" />
<text x="381.30" y="207.78" font-size="10.0" text-anchor="end" >8</text>
<line x1="383.00" y1="188.40" x2="386.50" y2="188.40" stroke="#3a3a3a" stroke-width="1" />
<text x="381.30" y="191.40" font-size="10.0" text-anchor="end" >10</text>
<text x="0" y="0" font-size="11.2" text-anchor="middle" transform="translate(366.10,228.50) rotate(-90)">Velocity (cm/s)</text>
<line x1="386.00" y1="270.30" x2="505.46" y2="270.30" stroke="#3a3a3a" stroke-width="1" />
<line x1="387.30" y1="270.30" x2="387.30" y2="273.80" stroke="#3a3a3a" stroke-width="1" />
<text x="387.30" y="286.10" font-size="10.0" text-anchor="middle" >-2</text>
<line x1="404.18" y1="270.30" x2="404.18" y2="273.80" stroke="#3a3a3a" stroke-width="1" />
<text x="404.18" y="286.10" font-size="10.0" text-anchor="middle" >-1</text>
<line x1="421.06" y1="270.30" x2="421.06" y2="273.80" stroke="#3a3a3a" stroke-width="1" />
<text x="421.06" y="286.10" font-size="10.0" text-anchor="middle" >0</text>
<line x1="437.94" y1="270.30" x2="437.94" y2="273.80" stroke="#3a3a3a" stroke-width="1" />
<text x="437.94" y="286.10" font-size="10.0" text-anchor="middle" >1</text>
<line x1="454.82" y1="270.30" x2="454.82" y2="273.80" stroke="#3a3a3a" stroke-width="1" />
<text x="454.82" y="286.10" font-size="10.0" text-anchor="middle" >2</text>
<line x1="471.70" y1="270.30" x2="471.70" y2="273.80" stroke="#3a3a3a" stroke-width="1" />
<text x="471.70" y="286.10" font-size="10.0" text-anchor="middle" >3</text>
<line x1="488.58" y1="270.30" x2="488.58" y2="273.80" stroke="#3a3a3a" stroke-width="1" />
<text x="488.58" y="286.10" font-size="10.0" text-anchor="middle" >4</text>
<line x1="505.46" y1="270.30" x2="505.46" y2="273.80" stroke="#3a3a3a" stroke-width="1" />
<text x="505.46" y="286.10" font-size="10.0" text-anchor="middle" >5</text>
<text x="453.18" y="295.00" font-size="11.5" text-anchor="middle" >Time (s)</text>
<rect x="42.70" y="337.50" width="34.20" height="83.20" fill="#c6e9fb"/>
<clipPath id="c175"><rect x="42.60" y="332.00" width="121.90" height="88.40"/></clipPath>
<g clip-path="url(#c175)">
<polygon points="42.8,407.4 45.8,408.0 48.7,407.3 51.6,408.0 54.5,409.3 57.3,410.8 60.2,410.7 63.1,411.8 66.0,412.7 68.9,412.0 71.8,412.7 74.7,411.2 76.8,405.9 79.0,401.1 81.2,403.5 83.4,407.4 85.5,402.7 87.7,404.9 89.9,407.7 92.0,404.9 94.2,402.7 97.8,402.9 100.7,401.0 103.5,397.3 106.3,402.9 110.1,405.8 113.9,403.9 117.6,402.0 121.4,404.8 125.2,408.6 129.0,405.8 132.7,403.9 136.5,402.0 140.3,402.9 144.1,399.2 147.8,398.2 151.6,395.4 155.4,393.5 159.2,392.5 161.1,393.5 162.5,393.0 162.5,403.0 161.1,403.5 159.2,402.5 155.4,403.5 151.6,405.4 147.8,408.2 144.1,409.2 140.3,412.9 136.5,412.0 132.7,413.9 129.0,415.8 125.2,418.6 121.4,414.8 117.6,412.0 113.9,413.9 110.1,415.8 106.3,412.9 103.5,407.3 100.7,411.0 97.8,412.9 94.2,412.7 92.0,414.9 89.9,417.7 87.7,414.9 85.5,412.7 83.4,416.6 81.2,411.9 79.0,408.5 76.8,412.3 74.7,417.2 71.8,418.5 68.9,417.8 66.0,418.5 63.1,417.4 60.2,416.3 57.3,416.2 54.5,414.7 51.6,413.2 48.7,412.5 45.8,413.2 42.8,412.4" fill="#b8b8b8" fill-opacity="0.22" stroke="none"/><polyline points="42.8,409.9 45.8,410.6 48.7,409.9 51.6,410.6 54.5,412.0 57.3,413.5 60.2,413.5 63.1,414.6 66.0,415.6 68.9,414.9 71.8,415.6 74.7,414.2 76.8,409.1 79.0,404.8 81.2,407.7 83.4,412.0 85.5,407.7 87.7,409.9 89.9,412.7 92.0,409.9 94.2,407.7 97.8,407.9 100.7,406.0 103.5,402.3 106.3,407.9 110.1,410.8 113.9,408.9 117.6,407.0 121.4,409.8 125.2,413.6 129.0,410.8 132.7,408.9 136.5,407.0 140.3,407.9 144.1,404.2 147.8,403.2 151.6,400.4 155.4,398.5 159.2,397.5 161.1,398.5 162.5,398.0" fill="none" stroke="#6a6a6a" stroke-width="1.1" stroke-opacity="0.42" stroke-linejoin="round"/>
<polygon points="42.8,404.8 44.3,404.0 46.5,405.5 48.7,404.7 50.1,407.6 51.8,403.9 53.7,405.4 55.9,403.9 58.5,401.1 60.2,405.3 63.1,406.0 66.0,407.5 68.2,407.5 70.3,410.3 72.5,409.5 74.7,408.1 76.1,408.1 77.6,403.0 79.7,400.1 81.9,397.6 83.4,391.4 85.5,385.3 87.7,376.2 89.1,369.5 89.9,365.6 90.0,357.0 90.9,363.4 92.0,360.9 92.1,360.8 93.0,357.0 93.5,359.2 93.9,360.3 95.2,364.0 97.8,358.6 100.7,363.8 103.5,371.6 105.4,375.5 107.1,367.1 107.3,366.1 108.0,349.0 108.6,354.8 108.9,357.5 110.1,368.1 112.9,366.3 115.8,367.5 116.1,366.1 117.0,352.0 117.9,357.7 118.0,357.2 119.9,366.7 121.8,360.2 123.3,366.9 126.1,366.1 127.1,361.2 128.0,347.0 128.6,353.9 128.9,355.9 130.8,368.2 133.7,375.0 135.6,380.7 138.4,382.7 141.2,385.6 143.7,389.0 145.1,382.9 145.9,379.4 146.0,359.0 146.9,371.7 147.5,367.0 150.1,369.6 151.6,369.5 153.5,375.9 155.4,369.1 158.2,367.0 160.1,363.9 160.1,363.9 161.0,353.0 161.1,359.5 161.9,357.8 162.5,356.5 162.5,382.5 161.1,385.5 160.1,389.4 158.2,391.4 155.4,392.1 153.5,397.8 151.6,390.3 150.1,389.6 147.5,384.2 145.9,394.9 143.7,403.8 141.2,401.0 138.4,399.0 135.6,398.0 133.7,393.1 130.8,387.4 128.6,373.6 126.1,386.2 123.3,387.4 121.8,380.9 119.9,387.7 118.0,378.5 115.8,389.1 112.9,388.4 110.1,390.6 108.6,377.5 107.3,389.0 105.4,398.7 103.5,395.0 100.7,387.7 97.8,381.8 95.2,386.4 93.5,381.0 92.0,382.3 89.9,386.2 87.7,395.7 85.5,400.7 83.4,403.0 81.9,406.6 79.7,407.5 77.6,409.1 76.1,413.1 74.7,413.1 72.5,414.5 70.3,415.1 68.2,412.3 66.0,412.3 63.1,410.8 60.2,410.1 58.5,405.7 55.9,408.5 53.7,410.0 51.8,408.5 50.1,412.2 48.7,409.3 46.5,409.9 44.3,408.4 42.8,409.2" fill="#dc5aa8" fill-opacity="0.38" stroke="none"/><polyline points="42.8,407.0 44.3,406.2 46.5,407.7 48.7,407.0 50.1,409.9 51.8,406.2 53.7,407.7 55.9,406.2 58.5,403.4 60.2,407.7 63.1,408.4 66.0,409.9 68.2,409.9 70.3,412.7 72.5,412.0 74.7,410.6 76.1,410.6 77.6,406.2 79.7,404.1 81.9,402.6 83.4,397.6 85.5,393.2 87.7,386.0 89.9,375.9 92.0,371.6 93.5,370.1 95.2,375.2 97.8,370.2 100.7,375.8 103.5,383.4 105.4,387.2 107.3,377.7 108.6,366.4 110.1,379.6 112.9,377.7 115.8,378.7 118.0,368.3 119.9,377.7 121.8,371.1 123.3,377.7 126.1,376.8 128.6,364.5 130.8,378.7 133.7,385.3 135.6,390.9 138.4,392.8 141.2,395.7 143.7,399.4 145.9,390.0 147.5,377.7 150.1,380.6 151.6,380.6 153.5,387.2 155.4,380.6 158.2,378.7 160.1,375.8 161.1,371.5 162.5,368.5" fill="none" stroke="#e8337f" stroke-width="1.4" stroke-opacity="1.0" stroke-linejoin="round"/>
</g>
<line x1="42.60" y1="338.00" x2="42.60" y2="421.20" stroke="#3a3a3a" stroke-width="1" />
<line x1="39.10" y1="420.70" x2="42.60" y2="420.70" stroke="#3a3a3a" stroke-width="1" />
<text x="36.80" y="423.70" font-size="10.0" text-anchor="end" >0</text>
<line x1="39.10" y1="400.02" x2="42.60" y2="400.02" stroke="#3a3a3a" stroke-width="1" />
<text x="36.80" y="403.02" font-size="10.0" text-anchor="end" >2</text>
<line x1="39.10" y1="379.35" x2="42.60" y2="379.35" stroke="#3a3a3a" stroke-width="1" />
<text x="36.80" y="382.35" font-size="10.0" text-anchor="end" >4</text>
<line x1="39.10" y1="358.68" x2="42.60" y2="358.68" stroke="#3a3a3a" stroke-width="1" />
<text x="36.80" y="361.68" font-size="10.0" text-anchor="end" >6</text>
<line x1="39.10" y1="338.00" x2="42.60" y2="338.00" stroke="#3a3a3a" stroke-width="1" />
<text x="36.80" y="341.00" font-size="10.0" text-anchor="end" >8</text>
<text x="0" y="0" font-size="11.2" text-anchor="middle" transform="translate(19.10,378.00) rotate(-90)">Velocity (cm/s)</text>
<line x1="42.10" y1="420.70" x2="162.50" y2="420.70" stroke="#3a3a3a" stroke-width="1" />
<line x1="42.80" y1="420.70" x2="42.80" y2="424.20" stroke="#3a3a3a" stroke-width="1" />
<text x="42.80" y="435.70" font-size="10.0" text-anchor="middle" >-2</text>
<line x1="59.90" y1="420.70" x2="59.90" y2="424.20" stroke="#3a3a3a" stroke-width="1" />
<text x="59.90" y="435.70" font-size="10.0" text-anchor="middle" >-1</text>
<line x1="77.00" y1="420.70" x2="77.00" y2="424.20" stroke="#3a3a3a" stroke-width="1" />
<text x="77.00" y="435.70" font-size="10.0" text-anchor="middle" >0</text>
<line x1="94.10" y1="420.70" x2="94.10" y2="424.20" stroke="#3a3a3a" stroke-width="1" />
<text x="94.10" y="435.70" font-size="10.0" text-anchor="middle" >1</text>
<line x1="111.20" y1="420.70" x2="111.20" y2="424.20" stroke="#3a3a3a" stroke-width="1" />
<text x="111.20" y="435.70" font-size="10.0" text-anchor="middle" >2</text>
<line x1="128.30" y1="420.70" x2="128.30" y2="424.20" stroke="#3a3a3a" stroke-width="1" />
<text x="128.30" y="435.70" font-size="10.0" text-anchor="middle" >3</text>
<line x1="145.40" y1="420.70" x2="145.40" y2="424.20" stroke="#3a3a3a" stroke-width="1" />
<text x="145.40" y="435.70" font-size="10.0" text-anchor="middle" >4</text>
<line x1="162.50" y1="420.70" x2="162.50" y2="424.20" stroke="#3a3a3a" stroke-width="1" />
<text x="162.50" y="435.70" font-size="10.0" text-anchor="middle" >5</text>
<text x="104.90" y="446.50" font-size="11.5" text-anchor="middle" >Time (s)</text>
<rect x="386.50" y="336.20" width="34.50" height="83.40" fill="#c6e9fb"/>
<clipPath id="c211"><rect x="386.50" y="331.20" width="120.68" height="88.10"/></clipPath>
<g clip-path="url(#c211)">
<polygon points="386.9,372.1 389.7,374.9 392.5,371.1 395.4,370.2 397.3,373.9 399.7,378.7 402.0,369.2 403.9,363.6 405.8,359.8 408.0,351.3 409.9,341.9 411.4,355.1 413.3,372.1 415.2,367.3 417.1,361.7 419.3,355.1 421.2,357.1 422.7,368.6 424.6,374.4 426.5,361.3 428.8,352.2 431.2,355.2 433.7,362.9 435.9,365.0 438.8,362.3 440.0,360.5 442.8,361.7 445.7,364.6 448.5,361.0 451.3,356.5 454.2,363.3 457.0,370.1 459.8,375.1 462.6,378.9 465.5,380.9 468.3,375.5 470.2,369.9 473.0,380.4 475.8,383.3 478.7,377.8 481.5,372.3 483.8,377.1 486.2,381.9 489.1,383.9 491.9,382.1 494.7,384.2 496.6,391.9 498.5,399.4 500.4,400.4 502.3,398.7 504.4,400.6 504.4,424.6 502.3,422.9 500.4,424.8 498.5,423.9 496.6,416.5 494.7,409.0 491.9,407.2 489.1,409.3 486.2,407.5 483.8,402.9 481.5,398.3 478.7,404.0 475.8,409.9 473.0,407.2 470.2,396.9 468.3,402.7 465.5,408.4 462.6,406.7 459.8,403.1 457.0,398.5 454.2,392.1 451.3,385.7 448.5,390.6 445.7,394.6 442.8,391.9 440.0,391.1 438.8,393.1 435.9,396.2 433.7,394.5 431.2,387.0 428.8,384.4 426.5,394.1 424.6,407.4 422.7,402.0 421.2,390.9 419.3,389.1 417.1,395.7 415.2,401.3 413.3,406.1 411.4,389.1 409.9,375.9 408.0,385.3 405.8,393.8 403.9,397.6 402.0,403.2 399.7,412.7 397.3,407.9 395.4,404.2 392.5,405.1 389.7,408.9 386.9,406.1" fill="#b8b8b8" fill-opacity="0.25" stroke="none"/><polyline points="386.9,389.1 389.7,391.9 392.5,388.1 395.4,387.2 397.3,390.9 399.7,395.7 402.0,386.2 403.9,380.6 405.8,376.8 408.0,368.3 409.9,358.9 411.4,372.1 413.3,389.1 415.2,384.3 417.1,378.7 419.3,372.1 421.2,374.0 422.7,385.3 424.6,390.9 426.5,377.7 428.8,368.3 431.2,371.1 433.7,378.7 435.9,380.6 438.8,377.7 440.0,375.8 442.8,376.8 445.7,379.6 448.5,375.8 451.3,371.1 454.2,377.7 457.0,384.3 459.8,389.1 462.6,392.8 465.5,394.7 468.3,389.1 470.2,383.4 473.0,393.8 475.8,396.6 478.7,390.9 481.5,385.3 483.8,390.0 486.2,394.7 489.1,396.6 491.9,394.7 494.7,396.6 496.6,404.2 498.5,411.7 500.4,412.6 502.3,410.8 504.4,412.6" fill="none" stroke="#7a7a7a" stroke-width="1.1" stroke-opacity="0.47" stroke-linejoin="round"/>
<polygon points="386.9,368.0 389.2,370.9 391.0,369.9 392.9,368.2 394.8,369.2 396.7,366.4 398.6,369.3 400.5,370.2 402.9,370.3 405.4,368.6 407.6,362.9 409.5,369.6 411.8,367.8 414.2,365.0 416.1,362.3 418.6,366.1 420.5,371.9 422.4,386.3 424.2,395.1 426.5,396.4 430.3,395.7 433.1,393.0 435.9,390.0 438.8,386.0 440.0,384.1 442.8,379.6 445.7,374.3 449.1,363.6 450.9,367.0 454.2,367.4 457.0,368.7 458.9,377.4 460.8,384.2 463.6,384.0 466.4,384.9 469.2,382.7 472.1,385.9 474.9,386.8 477.7,381.2 480.6,387.8 483.4,387.8 486.2,384.0 489.1,382.1 491.9,381.2 494.7,380.8 496.6,384.0 498.9,381.2 501.3,385.9 504.4,390.6 504.4,402.6 501.3,397.9 498.9,393.2 496.6,396.0 494.7,392.8 491.9,393.2 489.1,394.1 486.2,396.0 483.4,399.8 480.6,399.8 477.7,393.2 474.9,398.8 472.1,397.9 469.2,394.7 466.4,396.9 463.6,396.0 460.8,397.6 458.9,393.2 457.0,386.7 454.2,386.2 450.9,386.6 449.1,383.6 445.7,390.7 442.8,392.8 440.0,394.1 438.8,395.8 435.9,399.4 433.1,402.0 430.3,404.3 426.5,404.4 424.2,403.7 422.4,395.5 420.5,381.7 418.6,376.1 416.1,372.5 414.2,375.4 411.8,378.2 409.5,380.2 407.6,373.7 405.4,379.4 402.9,381.3 400.5,381.4 398.6,380.5 396.7,377.8 394.8,380.6 392.9,379.8 391.0,381.7 389.2,382.7 386.9,380.0" fill="#40b080" fill-opacity="0.36" stroke="none"/><polyline points="386.9,374.0 389.2,376.8 391.0,375.8 392.9,374.0 394.8,374.9 396.7,372.1 398.6,374.9 400.5,375.8 402.9,375.8 405.4,374.0 407.6,368.3 409.5,374.9 411.8,373.0 414.2,370.2 416.1,367.4 418.6,371.1 420.5,376.8 422.4,390.9 424.2,399.4 426.5,400.4 430.3,400.0 433.1,397.5 435.9,394.7 438.8,390.9 440.0,389.1 442.8,386.2 445.7,382.5 449.1,373.6 450.9,376.8 454.2,376.8 457.0,377.7 458.9,385.3 460.8,390.9 463.6,390.0 466.4,390.9 469.2,388.7 472.1,391.9 474.9,392.8 477.7,387.2 480.6,393.8 483.4,393.8 486.2,390.0 489.1,388.1 491.9,387.2 494.7,386.8 496.6,390.0 498.9,387.2 501.3,391.9 504.4,396.6" fill="none" stroke="#2f9e4c" stroke-width="1.3" stroke-opacity="1.0" stroke-linejoin="round"/>
</g>
<line x1="386.50" y1="337.20" x2="386.50" y2="420.10" stroke="#3a3a3a" stroke-width="1" />
<line x1="383.00" y1="419.60" x2="386.50" y2="419.60" stroke="#3a3a3a" stroke-width="1" />
<text x="381.30" y="422.60" font-size="10.0" text-anchor="end" >0</text>
<line x1="383.00" y1="399.00" x2="386.50" y2="399.00" stroke="#3a3a3a" stroke-width="1" />
<text x="381.30" y="402.00" font-size="10.0" text-anchor="end" >4</text>
<line x1="383.00" y1="378.40" x2="386.50" y2="378.40" stroke="#3a3a3a" stroke-width="1" />
<text x="381.30" y="381.40" font-size="10.0" text-anchor="end" >8</text>
<line x1="383.00" y1="357.80" x2="386.50" y2="357.80" stroke="#3a3a3a" stroke-width="1" />
<text x="381.30" y="360.80" font-size="10.0" text-anchor="end" >12</text>
<line x1="383.00" y1="337.20" x2="386.50" y2="337.20" stroke="#3a3a3a" stroke-width="1" />
<text x="381.30" y="340.20" font-size="10.0" text-anchor="end" >16</text>
<text x="0" y="0" font-size="11.2" text-anchor="middle" transform="translate(366.10,378.10) rotate(-90)">Velocity (cm/s)</text>
<line x1="386.00" y1="419.60" x2="505.18" y2="419.60" stroke="#3a3a3a" stroke-width="1" />
<line x1="386.60" y1="419.60" x2="386.60" y2="423.10" stroke="#3a3a3a" stroke-width="1" />
<text x="386.60" y="434.60" font-size="10.0" text-anchor="middle" >-2</text>
<line x1="403.54" y1="419.60" x2="403.54" y2="423.10" stroke="#3a3a3a" stroke-width="1" />
<text x="403.54" y="434.60" font-size="10.0" text-anchor="middle" >-1</text>
<line x1="420.48" y1="419.60" x2="420.48" y2="423.10" stroke="#3a3a3a" stroke-width="1" />
<text x="420.48" y="434.60" font-size="10.0" text-anchor="middle" >0</text>
<line x1="437.42" y1="419.60" x2="437.42" y2="423.10" stroke="#3a3a3a" stroke-width="1" />
<text x="437.42" y="434.60" font-size="10.0" text-anchor="middle" >1</text>
<line x1="454.36" y1="419.60" x2="454.36" y2="423.10" stroke="#3a3a3a" stroke-width="1" />
<text x="454.36" y="434.60" font-size="10.0" text-anchor="middle" >2</text>
<line x1="471.30" y1="419.60" x2="471.30" y2="423.10" stroke="#3a3a3a" stroke-width="1" />
<text x="471.30" y="434.60" font-size="10.0" text-anchor="middle" >3</text>
<line x1="488.24" y1="419.60" x2="488.24" y2="423.10" stroke="#3a3a3a" stroke-width="1" />
<text x="488.24" y="434.60" font-size="10.0" text-anchor="middle" >4</text>
<line x1="505.18" y1="419.60" x2="505.18" y2="423.10" stroke="#3a3a3a" stroke-width="1" />
<text x="505.18" y="434.60" font-size="10.0" text-anchor="middle" >5</text>
<text x="449.79" y="446.50" font-size="11.5" text-anchor="middle" >Time (s)</text>
<rect x="225.90" y="36.05" width="18.20" height="83.25" fill="#c6e9fb"/>
<line x1="210.80" y1="42.91" x2="234.60" y2="110.63" stroke="#151515" stroke-width="0.65" />
<line x1="210.80" y1="45.24" x2="234.60" y2="111.96" stroke="#151515" stroke-width="0.65" />
<line x1="210.80" y1="54.92" x2="234.60" y2="102.95" stroke="#151515" stroke-width="0.65" />
<line x1="210.80" y1="68.59" x2="234.60" y2="83.94" stroke="#151515" stroke-width="0.65" />
<line x1="210.80" y1="77.27" x2="234.60" y2="99.28" stroke="#151515" stroke-width="0.65" />
<line x1="210.80" y1="88.94" x2="234.60" y2="90.61" stroke="#151515" stroke-width="0.65" />
<line x1="210.80" y1="91.61" x2="234.60" y2="95.95" stroke="#151515" stroke-width="0.65" />
<line x1="210.80" y1="94.61" x2="234.60" y2="92.61" stroke="#151515" stroke-width="0.65" />
<line x1="210.80" y1="95.61" x2="234.60" y2="104.96" stroke="#151515" stroke-width="0.65" />
<line x1="210.80" y1="98.95" x2="234.60" y2="97.78" stroke="#151515" stroke-width="0.65" />
<line x1="210.80" y1="101.62" x2="234.60" y2="101.29" stroke="#151515" stroke-width="0.65" />
<line x1="210.80" y1="103.95" x2="234.60" y2="111.96" stroke="#151515" stroke-width="0.65" />
<line x1="210.80" y1="104.96" x2="234.60" y2="113.80" stroke="#151515" stroke-width="0.65" />
<circle cx="210.80" cy="42.91" r="2.7" fill="#e45aa6" fill-opacity="0.55"/>
<circle cx="210.80" cy="45.24" r="2.7" fill="#e45aa6" fill-opacity="0.55"/>
<circle cx="210.80" cy="54.92" r="2.7" fill="#e45aa6" fill-opacity="0.55"/>
<circle cx="210.80" cy="68.59" r="2.7" fill="#e45aa6" fill-opacity="0.55"/>
<circle cx="210.80" cy="77.27" r="2.7" fill="#e45aa6" fill-opacity="0.55"/>
<circle cx="210.80" cy="88.94" r="2.7" fill="#e45aa6" fill-opacity="0.55"/>
<circle cx="210.80" cy="91.61" r="2.7" fill="#e45aa6" fill-opacity="0.55"/>
<circle cx="210.80" cy="94.61" r="2.7" fill="#e45aa6" fill-opacity="0.55"/>
<circle cx="210.80" cy="95.61" r="2.7" fill="#e45aa6" fill-opacity="0.55"/>
<circle cx="210.80" cy="98.95" r="2.7" fill="#e45aa6" fill-opacity="0.55"/>
<circle cx="210.80" cy="101.62" r="2.7" fill="#e45aa6" fill-opacity="0.55"/>
<circle cx="210.80" cy="103.95" r="2.7" fill="#e45aa6" fill-opacity="0.55"/>
<circle cx="210.80" cy="104.96" r="2.7" fill="#e45aa6" fill-opacity="0.55"/>
<circle cx="234.60" cy="83.94" r="2.7" fill="#e8337f" fill-opacity="1"/>
<circle cx="234.60" cy="90.61" r="2.7" fill="#e8337f" fill-opacity="1"/>
<circle cx="234.60" cy="92.61" r="2.7" fill="#e8337f" fill-opacity="1"/>
<circle cx="234.60" cy="94.28" r="2.7" fill="#e8337f" fill-opacity="1"/>
<circle cx="234.60" cy="95.95" r="2.7" fill="#e8337f" fill-opacity="1"/>
<circle cx="234.60" cy="97.78" r="2.7" fill="#e8337f" fill-opacity="1"/>
<circle cx="234.60" cy="99.28" r="2.7" fill="#e8337f" fill-opacity="1"/>
<circle cx="234.60" cy="101.29" r="2.7" fill="#e8337f" fill-opacity="1"/>
<circle cx="234.60" cy="102.95" r="2.7" fill="#e8337f" fill-opacity="1"/>
<circle cx="234.60" cy="104.96" r="2.7" fill="#e8337f" fill-opacity="1"/>
<circle cx="234.60" cy="110.63" r="2.7" fill="#e8337f" fill-opacity="1"/>
<circle cx="234.60" cy="111.96" r="2.7" fill="#e8337f" fill-opacity="1"/>
<circle cx="234.60" cy="113.80" r="2.7" fill="#e8337f" fill-opacity="1"/>
<line x1="195.20" y1="35.90" x2="195.20" y2="119.80" stroke="#3a3a3a" stroke-width="1" />
<line x1="191.70" y1="119.30" x2="195.20" y2="119.30" stroke="#3a3a3a" stroke-width="1" />
<text x="190.00" y="121.60" font-size="10.0" text-anchor="end" >0</text>
<line x1="191.70" y1="102.62" x2="195.20" y2="102.62" stroke="#3a3a3a" stroke-width="1" />
<text x="190.00" y="104.92" font-size="10.0" text-anchor="end" >5</text>
<line x1="191.70" y1="85.94" x2="195.20" y2="85.94" stroke="#3a3a3a" stroke-width="1" />
<text x="190.00" y="88.24" font-size="10.0" text-anchor="end" >10</text>
<line x1="191.70" y1="69.26" x2="195.20" y2="69.26" stroke="#3a3a3a" stroke-width="1" />
<text x="190.00" y="71.56" font-size="10.0" text-anchor="end" >15</text>
<line x1="191.70" y1="52.58" x2="195.20" y2="52.58" stroke="#3a3a3a" stroke-width="1" />
<text x="190.00" y="54.88" font-size="10.0" text-anchor="end" >20</text>
<line x1="191.70" y1="35.90" x2="195.20" y2="35.90" stroke="#3a3a3a" stroke-width="1" />
<text x="190.00" y="38.20" font-size="10.0" text-anchor="end" >25</text>
<text x="0" y="0" font-size="11.2" text-anchor="middle" transform="translate(175.90,76.60) rotate(-90)">Velocity (cm/s)</text>
<line x1="194.70" y1="119.30" x2="250.70" y2="119.30" stroke="#3a3a3a" stroke-width="1" />
<line x1="210.80" y1="119.30" x2="210.80" y2="122.80" stroke="#3a3a3a" stroke-width="1" />
<text x="210.80" y="133.30" font-size="10.0" text-anchor="middle" ></text>
<line x1="234.60" y1="119.30" x2="234.60" y2="122.80" stroke="#3a3a3a" stroke-width="1" />
<text x="234.60" y="133.30" font-size="10.0" text-anchor="middle" ></text>
<text x="209.60" y="134.00" font-size="11.2" text-anchor="middle" >Pre</text>
<text x="235.35" y="134.00" font-size="11.2" text-anchor="middle" >Stim</text>
<polyline points="210.80,38.40 210.80,33.50 234.60,33.50 234.60,78.70" fill="none" stroke="#3a3a3a" stroke-width="1"/>
<polygon points="220.25,26.90 220.87,28.55 222.63,28.63 221.25,29.72 221.72,31.42 220.25,30.45 218.78,31.42 219.25,29.72 217.87,28.63 219.63,28.55" fill="#1a1a1a"/>
<polygon points="225.15,26.90 225.77,28.55 227.53,28.63 226.15,29.72 226.62,31.42 225.15,30.45 223.68,31.42 224.15,29.72 222.77,28.63 224.53,28.55" fill="#1a1a1a"/>
<rect x="308.90" y="37.15" width="17.40" height="82.15" fill="#c6e9fb"/>
<line x1="293.30" y1="69.83" x2="317.10" y2="80.12" stroke="#151515" stroke-width="0.65" />
<line x1="293.30" y1="84.77" x2="317.10" y2="75.14" stroke="#151515" stroke-width="0.65" />
<line x1="293.30" y1="84.77" x2="317.10" y2="92.41" stroke="#151515" stroke-width="0.65" />
<line x1="293.30" y1="91.41" x2="317.10" y2="68.50" stroke="#151515" stroke-width="0.65" />
<line x1="293.30" y1="91.41" x2="317.10" y2="101.37" stroke="#151515" stroke-width="0.65" />
<line x1="293.30" y1="94.40" x2="317.10" y2="106.02" stroke="#151515" stroke-width="0.65" />
<line x1="293.30" y1="97.39" x2="317.10" y2="103.70" stroke="#151515" stroke-width="0.65" />
<line x1="293.30" y1="101.37" x2="317.10" y2="108.34" stroke="#151515" stroke-width="0.65" />
<line x1="293.30" y1="104.69" x2="317.10" y2="109.84" stroke="#151515" stroke-width="0.65" />
<line x1="293.30" y1="108.01" x2="317.10" y2="106.02" stroke="#151515" stroke-width="0.65" />
<circle cx="293.30" cy="69.83" r="2.7" fill="#a0a0a0" fill-opacity="0.5"/>
<circle cx="293.30" cy="84.77" r="2.7" fill="#a0a0a0" fill-opacity="0.5"/>
<circle cx="293.30" cy="84.77" r="2.7" fill="#a0a0a0" fill-opacity="0.5"/>
<circle cx="293.30" cy="91.41" r="2.7" fill="#a0a0a0" fill-opacity="0.5"/>
<circle cx="293.30" cy="91.41" r="2.7" fill="#a0a0a0" fill-opacity="0.5"/>
<circle cx="293.30" cy="94.40" r="2.7" fill="#a0a0a0" fill-opacity="0.5"/>
<circle cx="293.30" cy="97.39" r="2.7" fill="#a0a0a0" fill-opacity="0.5"/>
<circle cx="293.30" cy="101.37" r="2.7" fill="#a0a0a0" fill-opacity="0.5"/>
<circle cx="293.30" cy="104.69" r="2.7" fill="#a0a0a0" fill-opacity="0.5"/>
<circle cx="293.30" cy="108.01" r="2.7" fill="#a0a0a0" fill-opacity="0.5"/>
<circle cx="317.10" cy="68.50" r="2.7" fill="#7d7d7d" fill-opacity="1"/>
<circle cx="317.10" cy="75.14" r="2.7" fill="#7d7d7d" fill-opacity="1"/>
<circle cx="317.10" cy="80.12" r="2.7" fill="#7d7d7d" fill-opacity="1"/>
<circle cx="317.10" cy="92.41" r="2.7" fill="#7d7d7d" fill-opacity="1"/>
<circle cx="317.10" cy="101.37" r="2.7" fill="#7d7d7d" fill-opacity="1"/>
<circle cx="317.10" cy="103.70" r="2.7" fill="#7d7d7d" fill-opacity="1"/>
<circle cx="317.10" cy="106.02" r="2.7" fill="#7d7d7d" fill-opacity="1"/>
<circle cx="317.10" cy="108.34" r="2.7" fill="#7d7d7d" fill-opacity="1"/>
<circle cx="317.10" cy="109.84" r="2.7" fill="#7d7d7d" fill-opacity="1"/>
<line x1="277.60" y1="36.30" x2="277.60" y2="119.80" stroke="#3a3a3a" stroke-width="1" />
<line x1="274.10" y1="119.30" x2="277.60" y2="119.30" stroke="#3a3a3a" stroke-width="1" />
<text x="272.40" y="121.60" font-size="10.0" text-anchor="end" >0</text>
<line x1="274.10" y1="102.70" x2="277.60" y2="102.70" stroke="#3a3a3a" stroke-width="1" />
<text x="272.40" y="105.00" font-size="10.0" text-anchor="end" >5</text>
<line x1="274.10" y1="86.10" x2="277.60" y2="86.10" stroke="#3a3a3a" stroke-width="1" />
<text x="272.40" y="88.40" font-size="10.0" text-anchor="end" >10</text>
<line x1="274.10" y1="69.50" x2="277.60" y2="69.50" stroke="#3a3a3a" stroke-width="1" />
<text x="272.40" y="71.80" font-size="10.0" text-anchor="end" >15</text>
<line x1="274.10" y1="52.90" x2="277.60" y2="52.90" stroke="#3a3a3a" stroke-width="1" />
<text x="272.40" y="55.20" font-size="10.0" text-anchor="end" >20</text>
<line x1="274.10" y1="36.30" x2="277.60" y2="36.30" stroke="#3a3a3a" stroke-width="1" />
<text x="272.40" y="38.60" font-size="10.0" text-anchor="end" >25</text>
<text x="0" y="0" font-size="11.2" text-anchor="middle" transform="translate(259.90,76.60) rotate(-90)">Velocity (cm/s)</text>
<line x1="277.10" y1="119.30" x2="333.00" y2="119.30" stroke="#3a3a3a" stroke-width="1" />
<line x1="293.30" y1="119.30" x2="293.30" y2="122.80" stroke="#3a3a3a" stroke-width="1" />
<text x="293.30" y="133.30" font-size="10.0" text-anchor="middle" ></text>
<line x1="317.10" y1="119.30" x2="317.10" y2="122.80" stroke="#3a3a3a" stroke-width="1" />
<text x="317.10" y="133.30" font-size="10.0" text-anchor="middle" ></text>
<text x="294.45" y="133.70" font-size="11.2" text-anchor="middle" >Pre</text>
<text x="319.95" y="133.70" font-size="11.2" text-anchor="middle" >Stim</text>
<rect x="569.80" y="36.80" width="18.00" height="82.50" fill="#c6e9fb"/>
<line x1="555.20" y1="80.43" x2="578.90" y2="95.89" stroke="#151515" stroke-width="0.65" />
<line x1="555.20" y1="88.79" x2="578.90" y2="71.23" stroke="#151515" stroke-width="0.65" />
<line x1="555.20" y1="92.13" x2="578.90" y2="82.93" stroke="#151515" stroke-width="0.65" />
<line x1="555.20" y1="93.38" x2="578.90" y2="93.38" stroke="#151515" stroke-width="0.65" />
<line x1="555.20" y1="95.06" x2="578.90" y2="98.82" stroke="#151515" stroke-width="0.65" />
<line x1="555.20" y1="96.73" x2="578.90" y2="100.91" stroke="#151515" stroke-width="0.65" />
<line x1="555.20" y1="95.06" x2="578.90" y2="102.16" stroke="#151515" stroke-width="0.65" />
<line x1="555.20" y1="105.92" x2="578.90" y2="100.07" stroke="#151515" stroke-width="0.65" />
<line x1="555.20" y1="105.92" x2="578.90" y2="114.28" stroke="#151515" stroke-width="0.65" />
<circle cx="555.20" cy="80.43" r="2.7" fill="#4fb06a" fill-opacity="0.6"/>
<circle cx="555.20" cy="88.79" r="2.7" fill="#4fb06a" fill-opacity="0.6"/>
<circle cx="555.20" cy="92.13" r="2.7" fill="#4fb06a" fill-opacity="0.6"/>
<circle cx="555.20" cy="93.38" r="2.7" fill="#4fb06a" fill-opacity="0.6"/>
<circle cx="555.20" cy="95.06" r="2.7" fill="#4fb06a" fill-opacity="0.6"/>
<circle cx="555.20" cy="96.73" r="2.7" fill="#4fb06a" fill-opacity="0.6"/>
<circle cx="555.20" cy="105.92" r="2.7" fill="#4fb06a" fill-opacity="0.6"/>
<circle cx="555.20" cy="105.92" r="2.7" fill="#4fb06a" fill-opacity="0.6"/>
<circle cx="578.90" cy="71.23" r="2.7" fill="#2f9e4c" fill-opacity="1"/>
<circle cx="578.90" cy="82.93" r="2.7" fill="#2f9e4c" fill-opacity="1"/>
<circle cx="578.90" cy="93.38" r="2.7" fill="#2f9e4c" fill-opacity="1"/>
<circle cx="578.90" cy="95.89" r="2.7" fill="#2f9e4c" fill-opacity="1"/>
<circle cx="578.90" cy="98.82" r="2.7" fill="#2f9e4c" fill-opacity="1"/>
<circle cx="578.90" cy="100.91" r="2.7" fill="#2f9e4c" fill-opacity="1"/>
<circle cx="578.90" cy="102.16" r="2.7" fill="#2f9e4c" fill-opacity="1"/>
<circle cx="578.90" cy="114.28" r="2.7" fill="#2f9e4c" fill-opacity="1"/>
<line x1="539.40" y1="35.70" x2="539.40" y2="119.80" stroke="#3a3a3a" stroke-width="1" />
<line x1="535.90" y1="119.30" x2="539.40" y2="119.30" stroke="#3a3a3a" stroke-width="1" />
<text x="534.20" y="121.60" font-size="10.0" text-anchor="end" >0</text>
<line x1="535.90" y1="98.40" x2="539.40" y2="98.40" stroke="#3a3a3a" stroke-width="1" />
<text x="534.20" y="100.70" font-size="10.0" text-anchor="end" >5</text>
<line x1="535.90" y1="77.50" x2="539.40" y2="77.50" stroke="#3a3a3a" stroke-width="1" />
<text x="534.20" y="79.80" font-size="10.0" text-anchor="end" >10</text>
<line x1="535.90" y1="56.60" x2="539.40" y2="56.60" stroke="#3a3a3a" stroke-width="1" />
<text x="534.20" y="58.90" font-size="10.0" text-anchor="end" >15</text>
<line x1="535.90" y1="35.70" x2="539.40" y2="35.70" stroke="#3a3a3a" stroke-width="1" />
<text x="534.20" y="38.00" font-size="10.0" text-anchor="end" >20</text>
<text x="0" y="0" font-size="11.2" text-anchor="middle" transform="translate(520.90,77.20) rotate(-90)">Velocity (cm/s)</text>
<line x1="538.90" y1="119.30" x2="594.50" y2="119.30" stroke="#3a3a3a" stroke-width="1" />
<line x1="555.20" y1="119.30" x2="555.20" y2="122.80" stroke="#3a3a3a" stroke-width="1" />
<text x="555.20" y="133.30" font-size="10.0" text-anchor="middle" ></text>
<line x1="578.90" y1="119.30" x2="578.90" y2="122.80" stroke="#3a3a3a" stroke-width="1" />
<text x="578.90" y="133.30" font-size="10.0" text-anchor="middle" ></text>
<text x="555.60" y="131.20" font-size="11.2" text-anchor="middle" >Pre</text>
<text x="581.15" y="131.20" font-size="11.2" text-anchor="middle" >Stim</text>
<rect x="658.30" y="36.05" width="17.80" height="83.25" fill="#c6e9fb"/>
<line x1="643.40" y1="63.61" x2="667.50" y2="44.76" stroke="#151515" stroke-width="0.65" />
<line x1="643.40" y1="98.36" x2="667.50" y2="106.74" stroke="#151515" stroke-width="0.65" />
<line x1="643.40" y1="101.29" x2="667.50" y2="110.51" stroke="#151515" stroke-width="0.65" />
<line x1="643.40" y1="109.25" x2="667.50" y2="103.39" stroke="#151515" stroke-width="0.65" />
<circle cx="643.40" cy="63.61" r="2.7" fill="#a0a0a0" fill-opacity="0.55"/>
<circle cx="643.40" cy="98.36" r="2.7" fill="#a0a0a0" fill-opacity="0.55"/>
<circle cx="643.40" cy="101.29" r="2.7" fill="#a0a0a0" fill-opacity="0.55"/>
<circle cx="643.40" cy="109.25" r="2.7" fill="#a0a0a0" fill-opacity="0.55"/>
<circle cx="667.50" cy="44.76" r="2.7" fill="#7d7d7d" fill-opacity="1"/>
<circle cx="667.50" cy="103.39" r="2.7" fill="#7d7d7d" fill-opacity="1"/>
<circle cx="667.50" cy="106.74" r="2.7" fill="#7d7d7d" fill-opacity="1"/>
<circle cx="667.50" cy="110.51" r="2.7" fill="#7d7d7d" fill-opacity="1"/>
<line x1="627.50" y1="35.55" x2="627.50" y2="119.80" stroke="#3a3a3a" stroke-width="1" />
<line x1="624.00" y1="119.30" x2="627.50" y2="119.30" stroke="#3a3a3a" stroke-width="1" />
<text x="622.30" y="121.60" font-size="10.0" text-anchor="end" >0</text>
<line x1="624.00" y1="98.36" x2="627.50" y2="98.36" stroke="#3a3a3a" stroke-width="1" />
<text x="622.30" y="100.66" font-size="10.0" text-anchor="end" >5</text>
<line x1="624.00" y1="77.42" x2="627.50" y2="77.42" stroke="#3a3a3a" stroke-width="1" />
<text x="622.30" y="79.72" font-size="10.0" text-anchor="end" >10</text>
<line x1="624.00" y1="56.49" x2="627.50" y2="56.49" stroke="#3a3a3a" stroke-width="1" />
<text x="622.30" y="58.79" font-size="10.0" text-anchor="end" >15</text>
<line x1="624.00" y1="35.55" x2="627.50" y2="35.55" stroke="#3a3a3a" stroke-width="1" />
<text x="622.30" y="37.85" font-size="10.0" text-anchor="end" >20</text>
<text x="0" y="0" font-size="11.2" text-anchor="middle" transform="translate(609.70,77.20) rotate(-90)">Velocity (cm/s)</text>
<line x1="627.00" y1="119.30" x2="682.90" y2="119.30" stroke="#3a3a3a" stroke-width="1" />
<line x1="643.40" y1="119.30" x2="643.40" y2="122.80" stroke="#3a3a3a" stroke-width="1" />
<text x="643.40" y="133.30" font-size="10.0" text-anchor="middle" ></text>
<line x1="667.50" y1="119.30" x2="667.50" y2="122.80" stroke="#3a3a3a" stroke-width="1" />
<text x="667.50" y="133.30" font-size="10.0" text-anchor="middle" ></text>
<text x="644.35" y="131.90" font-size="11.2" text-anchor="middle" >Pre</text>
<text x="670.00" y="131.90" font-size="11.2" text-anchor="middle" >Stim</text>
<rect x="226.30" y="186.70" width="17.60" height="82.60" fill="#c6e9fb"/>
<line x1="211.60" y1="255.33" x2="235.50" y2="190.53" stroke="#151515" stroke-width="0.65" />
<line x1="211.60" y1="255.89" x2="235.50" y2="209.80" stroke="#151515" stroke-width="0.65" />
<line x1="211.60" y1="256.45" x2="235.50" y2="214.27" stroke="#151515" stroke-width="0.65" />
<line x1="211.60" y1="257.01" x2="235.50" y2="225.17" stroke="#151515" stroke-width="0.65" />
<line x1="211.60" y1="257.57" x2="235.50" y2="232.15" stroke="#151515" stroke-width="0.65" />
<line x1="211.60" y1="258.13" x2="235.50" y2="238.57" stroke="#151515" stroke-width="0.65" />
<line x1="211.60" y1="258.69" x2="235.50" y2="245.00" stroke="#151515" stroke-width="0.65" />
<line x1="211.60" y1="259.24" x2="235.50" y2="252.54" stroke="#151515" stroke-width="0.65" />
<line x1="211.60" y1="260.92" x2="235.50" y2="254.77" stroke="#151515" stroke-width="0.65" />
<line x1="211.60" y1="262.04" x2="235.50" y2="258.13" stroke="#151515" stroke-width="0.65" />
<line x1="211.60" y1="262.60" x2="235.50" y2="260.36" stroke="#151515" stroke-width="0.65" />
<line x1="211.60" y1="263.15" x2="235.50" y2="261.76" stroke="#151515" stroke-width="0.65" />
<circle cx="211.60" cy="254.77" r="2.7" fill="#e8458f" fill-opacity="0.75"/>
<circle cx="211.60" cy="255.89" r="2.7" fill="#e8458f" fill-opacity="0.75"/>
<circle cx="211.60" cy="256.73" r="2.7" fill="#e8458f" fill-opacity="0.75"/>
<circle cx="211.60" cy="257.57" r="2.7" fill="#e8458f" fill-opacity="0.75"/>
<circle cx="211.60" cy="258.13" r="2.7" fill="#e8458f" fill-opacity="0.75"/>
<circle cx="211.60" cy="258.96" r="2.7" fill="#e8458f" fill-opacity="0.75"/>
<circle cx="211.60" cy="259.80" r="2.7" fill="#e8458f" fill-opacity="0.75"/>
<circle cx="211.60" cy="260.64" r="2.7" fill="#e8458f" fill-opacity="0.75"/>
<circle cx="211.60" cy="261.48" r="2.7" fill="#e8458f" fill-opacity="0.75"/>
<circle cx="211.60" cy="262.32" r="2.7" fill="#e8458f" fill-opacity="0.75"/>
<circle cx="211.60" cy="263.15" r="2.7" fill="#e8458f" fill-opacity="0.75"/>
<circle cx="211.60" cy="263.99" r="2.7" fill="#e8458f" fill-opacity="0.75"/>
<circle cx="235.50" cy="190.53" r="2.7" fill="#e8337f" fill-opacity="1"/>
<circle cx="235.50" cy="209.80" r="2.7" fill="#e8337f" fill-opacity="1"/>
<circle cx="235.50" cy="214.27" r="2.7" fill="#e8337f" fill-opacity="1"/>
<circle cx="235.50" cy="225.17" r="2.7" fill="#e8337f" fill-opacity="1"/>
<circle cx="235.50" cy="232.15" r="2.7" fill="#e8337f" fill-opacity="1"/>
<circle cx="235.50" cy="238.57" r="2.7" fill="#e8337f" fill-opacity="1"/>
<circle cx="235.50" cy="245.00" r="2.7" fill="#e8337f" fill-opacity="1"/>
<circle cx="235.50" cy="252.54" r="2.7" fill="#e8337f" fill-opacity="1"/>
<circle cx="235.50" cy="254.77" r="2.7" fill="#e8337f" fill-opacity="1"/>
<circle cx="235.50" cy="258.13" r="2.7" fill="#e8337f" fill-opacity="1"/>
<circle cx="235.50" cy="260.36" r="2.7" fill="#e8337f" fill-opacity="1"/>
<circle cx="235.50" cy="261.76" r="2.7" fill="#e8337f" fill-opacity="1"/>
<line x1="195.50" y1="185.50" x2="195.50" y2="269.80" stroke="#3a3a3a" stroke-width="1" />
<line x1="192.00" y1="269.30" x2="195.50" y2="269.30" stroke="#3a3a3a" stroke-width="1" />
<text x="190.00" y="271.60" font-size="10.0" text-anchor="end" >0</text>
<line x1="192.00" y1="241.37" x2="195.50" y2="241.37" stroke="#3a3a3a" stroke-width="1" />
<text x="190.00" y="243.67" font-size="10.0" text-anchor="end" >1</text>
<line x1="192.00" y1="213.43" x2="195.50" y2="213.43" stroke="#3a3a3a" stroke-width="1" />
<text x="190.00" y="215.73" font-size="10.0" text-anchor="end" >2</text>
<line x1="192.00" y1="185.50" x2="195.50" y2="185.50" stroke="#3a3a3a" stroke-width="1" />
<text x="190.00" y="187.80" font-size="10.0" text-anchor="end" >3</text>
<text x="0" y="0" font-size="11.2" text-anchor="middle" transform="translate(175.90,227.00) rotate(-90)">Velocity (cm/s)</text>
<line x1="195.00" y1="269.30" x2="251.50" y2="269.30" stroke="#3a3a3a" stroke-width="1" />
<line x1="211.60" y1="269.30" x2="211.60" y2="272.80" stroke="#3a3a3a" stroke-width="1" />
<text x="211.60" y="283.30" font-size="10.0" text-anchor="middle" ></text>
<line x1="235.50" y1="269.30" x2="235.50" y2="272.80" stroke="#3a3a3a" stroke-width="1" />
<text x="235.50" y="283.30" font-size="10.0" text-anchor="middle" ></text>
<text x="213.45" y="283.60" font-size="11.2" text-anchor="middle" >Pre</text>
<text x="238.55" y="283.60" font-size="11.2" text-anchor="middle" >Stim</text>
<polyline points="211.60,249.80 211.60,180.50 235.50,180.50 235.50,185.70" fill="none" stroke="#3a3a3a" stroke-width="1"/>
<polygon points="221.55,173.70 222.17,175.35 223.93,175.43 222.55,176.52 223.02,178.22 221.55,177.25 220.08,178.22 220.55,176.52 219.17,175.43 220.93,175.35" fill="#1a1a1a"/>
<polygon points="226.45,173.70 227.07,175.35 228.83,175.43 227.45,176.52 227.92,178.22 226.45,177.25 224.98,178.22 225.45,176.52 224.07,175.43 225.83,175.35" fill="#1a1a1a"/>
<rect x="306.70" y="187.00" width="17.60" height="82.50" fill="#c6e9fb"/>
<line x1="291.30" y1="252.74" x2="315.40" y2="247.99" stroke="#151515" stroke-width="0.65" />
<line x1="291.30" y1="252.74" x2="315.40" y2="249.95" stroke="#151515" stroke-width="0.65" />
<line x1="291.30" y1="257.77" x2="315.40" y2="252.74" stroke="#151515" stroke-width="0.65" />
<line x1="291.30" y1="259.72" x2="315.40" y2="254.14" stroke="#151515" stroke-width="0.65" />
<line x1="291.30" y1="262.52" x2="315.40" y2="249.95" stroke="#151515" stroke-width="0.65" />
<line x1="291.30" y1="257.77" x2="315.40" y2="261.12" stroke="#151515" stroke-width="0.65" />
<line x1="291.30" y1="259.72" x2="315.40" y2="263.35" stroke="#151515" stroke-width="0.65" />
<circle cx="291.30" cy="252.74" r="2.7" fill="#8c8c8c" fill-opacity="0.9"/>
<circle cx="291.30" cy="257.77" r="2.7" fill="#8c8c8c" fill-opacity="0.9"/>
<circle cx="291.30" cy="259.72" r="2.7" fill="#8c8c8c" fill-opacity="0.9"/>
<circle cx="291.30" cy="262.52" r="2.7" fill="#8c8c8c" fill-opacity="0.9"/>
<circle cx="315.40" cy="247.99" r="2.7" fill="#8c8c8c" fill-opacity="1"/>
<circle cx="315.40" cy="249.95" r="2.7" fill="#8c8c8c" fill-opacity="1"/>
<circle cx="315.40" cy="252.74" r="2.7" fill="#8c8c8c" fill-opacity="1"/>
<circle cx="315.40" cy="254.14" r="2.7" fill="#8c8c8c" fill-opacity="1"/>
<circle cx="315.40" cy="261.12" r="2.7" fill="#8c8c8c" fill-opacity="1"/>
<circle cx="315.40" cy="263.35" r="2.7" fill="#8c8c8c" fill-opacity="1"/>
<line x1="275.50" y1="185.70" x2="275.50" y2="270.00" stroke="#3a3a3a" stroke-width="1" />
<line x1="272.00" y1="269.50" x2="275.50" y2="269.50" stroke="#3a3a3a" stroke-width="1" />
<text x="269.90" y="271.80" font-size="10.0" text-anchor="end" >0</text>
<line x1="272.00" y1="241.57" x2="275.50" y2="241.57" stroke="#3a3a3a" stroke-width="1" />
<text x="269.90" y="243.87" font-size="10.0" text-anchor="end" >1</text>
<line x1="272.00" y1="213.63" x2="275.50" y2="213.63" stroke="#3a3a3a" stroke-width="1" />
<text x="269.90" y="215.93" font-size="10.0" text-anchor="end" >2</text>
<line x1="272.00" y1="185.70" x2="275.50" y2="185.70" stroke="#3a3a3a" stroke-width="1" />
<text x="269.90" y="188.00" font-size="10.0" text-anchor="end" >3</text>
<text x="0" y="0" font-size="11.2" text-anchor="middle" transform="translate(259.30,227.00) rotate(-90)">Velocity (cm/s)</text>
<line x1="275.00" y1="269.50" x2="331.20" y2="269.50" stroke="#3a3a3a" stroke-width="1" />
<line x1="291.30" y1="269.50" x2="291.30" y2="273.00" stroke="#3a3a3a" stroke-width="1" />
<text x="291.30" y="283.50" font-size="10.0" text-anchor="middle" ></text>
<line x1="315.40" y1="269.50" x2="315.40" y2="273.00" stroke="#3a3a3a" stroke-width="1" />
<text x="315.40" y="283.50" font-size="10.0" text-anchor="middle" ></text>
<text x="292.70" y="283.70" font-size="11.2" text-anchor="middle" >Pre</text>
<text x="318.45" y="283.70" font-size="11.2" text-anchor="middle" >Stim</text>
<rect x="570.00" y="187.90" width="17.50" height="82.30" fill="#c6e9fb"/>
<line x1="554.60" y1="262.88" x2="578.40" y2="202.72" stroke="#151515" stroke-width="0.65" />
<line x1="554.60" y1="263.40" x2="578.40" y2="223.12" stroke="#151515" stroke-width="0.65" />
<line x1="554.60" y1="263.92" x2="578.40" y2="227.83" stroke="#151515" stroke-width="0.65" />
<line x1="554.60" y1="264.45" x2="578.40" y2="246.14" stroke="#151515" stroke-width="0.65" />
<line x1="554.60" y1="264.97" x2="578.40" y2="248.23" stroke="#151515" stroke-width="0.65" />
<line x1="554.60" y1="265.49" x2="578.40" y2="250.64" stroke="#151515" stroke-width="0.65" />
<line x1="554.60" y1="266.01" x2="578.40" y2="254.61" stroke="#151515" stroke-width="0.65" />
<line x1="554.60" y1="267.06" x2="578.40" y2="256.60" stroke="#151515" stroke-width="0.65" />
<line x1="554.60" y1="268.11" x2="578.40" y2="258.38" stroke="#151515" stroke-width="0.65" />
<line x1="554.60" y1="269.15" x2="578.40" y2="264.65" stroke="#151515" stroke-width="0.65" />
<circle cx="554.60" cy="259.74" r="2.7" fill="#5cc07a" fill-opacity="0.5"/>
<circle cx="554.60" cy="261.31" r="2.7" fill="#5cc07a" fill-opacity="0.5"/>
<circle cx="554.60" cy="262.88" r="2.7" fill="#5cc07a" fill-opacity="0.5"/>
<circle cx="554.60" cy="263.92" r="2.7" fill="#5cc07a" fill-opacity="0.5"/>
<circle cx="554.60" cy="264.97" r="2.7" fill="#5cc07a" fill-opacity="0.5"/>
<circle cx="554.60" cy="266.01" r="2.7" fill="#5cc07a" fill-opacity="0.5"/>
<circle cx="554.60" cy="267.06" r="2.7" fill="#5cc07a" fill-opacity="0.5"/>
<circle cx="554.60" cy="268.11" r="2.7" fill="#5cc07a" fill-opacity="0.5"/>
<circle cx="554.60" cy="269.15" r="2.7" fill="#5cc07a" fill-opacity="0.5"/>
<circle cx="554.60" cy="269.68" r="2.7" fill="#5cc07a" fill-opacity="0.5"/>
<circle cx="578.40" cy="202.72" r="2.7" fill="#2f9e4c" fill-opacity="1"/>
<circle cx="578.40" cy="223.12" r="2.7" fill="#2f9e4c" fill-opacity="1"/>
<circle cx="578.40" cy="227.83" r="2.7" fill="#2f9e4c" fill-opacity="1"/>
<circle cx="578.40" cy="246.14" r="2.7" fill="#2f9e4c" fill-opacity="1"/>
<circle cx="578.40" cy="248.23" r="2.7" fill="#2f9e4c" fill-opacity="1"/>
<circle cx="578.40" cy="250.64" r="2.7" fill="#2f9e4c" fill-opacity="1"/>
<circle cx="578.40" cy="254.61" r="2.7" fill="#2f9e4c" fill-opacity="1"/>
<circle cx="578.40" cy="256.60" r="2.7" fill="#2f9e4c" fill-opacity="1"/>
<circle cx="578.40" cy="258.38" r="2.7" fill="#2f9e4c" fill-opacity="1"/>
<circle cx="578.40" cy="264.65" r="2.7" fill="#2f9e4c" fill-opacity="1"/>
<line x1="538.50" y1="186.50" x2="538.50" y2="270.70" stroke="#3a3a3a" stroke-width="1" />
<line x1="535.00" y1="270.20" x2="538.50" y2="270.20" stroke="#3a3a3a" stroke-width="1" />
<text x="533.90" y="272.50" font-size="10.0" text-anchor="end" >0</text>
<line x1="535.00" y1="249.27" x2="538.50" y2="249.27" stroke="#3a3a3a" stroke-width="1" />
<text x="533.90" y="251.57" font-size="10.0" text-anchor="end" >2</text>
<line x1="535.00" y1="228.35" x2="538.50" y2="228.35" stroke="#3a3a3a" stroke-width="1" />
<text x="533.90" y="230.65" font-size="10.0" text-anchor="end" >4</text>
<line x1="535.00" y1="207.43" x2="538.50" y2="207.43" stroke="#3a3a3a" stroke-width="1" />
<text x="533.90" y="209.73" font-size="10.0" text-anchor="end" >6</text>
<line x1="535.00" y1="186.50" x2="538.50" y2="186.50" stroke="#3a3a3a" stroke-width="1" />
<text x="533.90" y="188.80" font-size="10.0" text-anchor="end" >8</text>
<text x="0" y="0" font-size="11.2" text-anchor="middle" transform="translate(520.80,227.00) rotate(-90)">Velocity (cm/s)</text>
<line x1="538.00" y1="270.20" x2="594.90" y2="270.20" stroke="#3a3a3a" stroke-width="1" />
<line x1="554.60" y1="270.20" x2="554.60" y2="273.70" stroke="#3a3a3a" stroke-width="1" />
<text x="554.60" y="284.20" font-size="10.0" text-anchor="middle" ></text>
<line x1="578.40" y1="270.20" x2="578.40" y2="273.70" stroke="#3a3a3a" stroke-width="1" />
<text x="578.40" y="284.20" font-size="10.0" text-anchor="middle" ></text>
<text x="555.40" y="284.10" font-size="11.2" text-anchor="middle" >Pre</text>
<text x="580.95" y="284.10" font-size="11.2" text-anchor="middle" >Stim</text>
<polyline points="554.60,257.50 554.60,193.00 578.40,193.00 578.40,197.60" fill="none" stroke="#3a3a3a" stroke-width="1"/>
<polygon points="563.00,180.50 563.62,182.15 565.38,182.23 564.00,183.32 564.47,185.02 563.00,184.05 561.53,185.02 562.00,183.32 560.62,182.23 562.38,182.15" fill="#1a1a1a"/>
<polygon points="567.90,180.50 568.52,182.15 570.28,182.23 568.90,183.32 569.37,185.02 567.90,184.05 566.43,185.02 566.90,183.32 565.52,182.23 567.28,182.15" fill="#1a1a1a"/>
<rect x="658.70" y="186.95" width="17.40" height="82.35" fill="#c6e9fb"/>
<line x1="643.40" y1="265.13" x2="667.50" y2="252.12" stroke="#151515" stroke-width="0.65" />
<line x1="643.40" y1="265.34" x2="667.50" y2="259.41" stroke="#151515" stroke-width="0.65" />
<line x1="643.40" y1="264.93" x2="667.50" y2="265.13" stroke="#151515" stroke-width="0.65" />
<circle cx="643.40" cy="265.13" r="2.7" fill="#8c8c8c" fill-opacity="0.9"/>
<circle cx="643.40" cy="265.34" r="2.7" fill="#8c8c8c" fill-opacity="0.9"/>
<circle cx="643.40" cy="264.93" r="2.7" fill="#8c8c8c" fill-opacity="0.9"/>
<circle cx="667.50" cy="252.12" r="2.7" fill="#8c8c8c" fill-opacity="1"/>
<circle cx="667.50" cy="259.41" r="2.7" fill="#8c8c8c" fill-opacity="1"/>
<circle cx="667.50" cy="265.13" r="2.7" fill="#8c8c8c" fill-opacity="1"/>
<line x1="627.60" y1="186.00" x2="627.60" y2="269.80" stroke="#3a3a3a" stroke-width="1" />
<line x1="624.10" y1="269.30" x2="627.60" y2="269.30" stroke="#3a3a3a" stroke-width="1" />
<text x="623.00" y="271.60" font-size="10.0" text-anchor="end" >0</text>
<line x1="624.10" y1="248.48" x2="627.60" y2="248.48" stroke="#3a3a3a" stroke-width="1" />
<text x="623.00" y="250.78" font-size="10.0" text-anchor="end" >2</text>
<line x1="624.10" y1="227.65" x2="627.60" y2="227.65" stroke="#3a3a3a" stroke-width="1" />
<text x="623.00" y="229.95" font-size="10.0" text-anchor="end" >4</text>
<line x1="624.10" y1="206.82" x2="627.60" y2="206.82" stroke="#3a3a3a" stroke-width="1" />
<text x="623.00" y="209.12" font-size="10.0" text-anchor="end" >6</text>
<line x1="624.10" y1="186.00" x2="627.60" y2="186.00" stroke="#3a3a3a" stroke-width="1" />
<text x="623.00" y="188.30" font-size="10.0" text-anchor="end" >8</text>
<text x="0" y="0" font-size="11.2" text-anchor="middle" transform="translate(613.70,228.50) rotate(-90)">Velocity (cm/s)</text>
<line x1="627.10" y1="269.30" x2="683.10" y2="269.30" stroke="#3a3a3a" stroke-width="1" />
<line x1="643.40" y1="269.30" x2="643.40" y2="272.80" stroke="#3a3a3a" stroke-width="1" />
<text x="643.40" y="283.30" font-size="10.0" text-anchor="middle" ></text>
<line x1="667.50" y1="269.30" x2="667.50" y2="272.80" stroke="#3a3a3a" stroke-width="1" />
<text x="667.50" y="283.30" font-size="10.0" text-anchor="middle" ></text>
<text x="645.50" y="283.90" font-size="11.2" text-anchor="middle" >Pre</text>
<text x="671.45" y="283.90" font-size="11.2" text-anchor="middle" >Stim</text>
<rect x="203.00" y="338.50" width="17.80" height="82.30" fill="#c6e9fb"/>
<line x1="211.40" y1="410.39" x2="235.50" y2="346.91" stroke="#151515" stroke-width="0.65" />
<line x1="211.40" y1="410.80" x2="235.50" y2="373.32" stroke="#151515" stroke-width="0.65" />
<line x1="211.40" y1="411.22" x2="235.50" y2="389.81" stroke="#151515" stroke-width="0.65" />
<line x1="211.40" y1="411.64" x2="235.50" y2="395.39" stroke="#151515" stroke-width="0.65" />
<line x1="211.40" y1="412.05" x2="235.50" y2="400.64" stroke="#151515" stroke-width="0.65" />
<line x1="211.40" y1="412.47" x2="235.50" y2="401.64" stroke="#151515" stroke-width="0.65" />
<line x1="211.40" y1="412.89" x2="235.50" y2="403.31" stroke="#151515" stroke-width="0.65" />
<line x1="211.40" y1="413.30" x2="235.50" y2="404.81" stroke="#151515" stroke-width="0.65" />
<line x1="211.40" y1="413.72" x2="235.50" y2="407.14" stroke="#151515" stroke-width="0.65" />
<line x1="211.40" y1="414.14" x2="235.50" y2="409.39" stroke="#151515" stroke-width="0.65" />
<line x1="211.40" y1="414.55" x2="235.50" y2="412.22" stroke="#151515" stroke-width="0.65" />
<line x1="211.40" y1="414.97" x2="235.50" y2="414.97" stroke="#151515" stroke-width="0.65" />
<circle cx="211.40" cy="410.39" r="2.7" fill="#e8337f" fill-opacity="1"/>
<circle cx="211.40" cy="410.80" r="2.7" fill="#e8337f" fill-opacity="1"/>
<circle cx="211.40" cy="411.64" r="2.7" fill="#e8337f" fill-opacity="1"/>
<circle cx="211.40" cy="412.05" r="2.7" fill="#e8337f" fill-opacity="1"/>
<circle cx="211.40" cy="412.47" r="2.7" fill="#e8337f" fill-opacity="1"/>
<circle cx="211.40" cy="412.89" r="2.7" fill="#e8337f" fill-opacity="1"/>
<circle cx="211.40" cy="413.30" r="2.7" fill="#e8337f" fill-opacity="1"/>
<circle cx="211.40" cy="413.72" r="2.7" fill="#e8337f" fill-opacity="1"/>
<circle cx="211.40" cy="414.14" r="2.7" fill="#e8337f" fill-opacity="1"/>
<circle cx="211.40" cy="414.55" r="2.7" fill="#e8337f" fill-opacity="1"/>
<circle cx="211.40" cy="414.97" r="2.7" fill="#e8337f" fill-opacity="1"/>
<circle cx="235.50" cy="346.91" r="2.7" fill="#e76cb0" fill-opacity="0.6"/>
<circle cx="235.50" cy="373.32" r="2.7" fill="#e76cb0" fill-opacity="0.6"/>
<circle cx="235.50" cy="389.81" r="2.7" fill="#e76cb0" fill-opacity="0.6"/>
<circle cx="235.50" cy="395.39" r="2.7" fill="#e76cb0" fill-opacity="0.6"/>
<circle cx="235.50" cy="400.64" r="2.7" fill="#e76cb0" fill-opacity="0.6"/>
<circle cx="235.50" cy="401.64" r="2.7" fill="#e76cb0" fill-opacity="0.6"/>
<circle cx="235.50" cy="403.31" r="2.7" fill="#e76cb0" fill-opacity="0.6"/>
<circle cx="235.50" cy="404.81" r="2.7" fill="#e76cb0" fill-opacity="0.6"/>
<circle cx="235.50" cy="407.14" r="2.7" fill="#e76cb0" fill-opacity="0.6"/>
<circle cx="235.50" cy="409.39" r="2.7" fill="#e76cb0" fill-opacity="0.6"/>
<circle cx="235.50" cy="412.22" r="2.7" fill="#e76cb0" fill-opacity="0.6"/>
<circle cx="235.50" cy="414.97" r="2.7" fill="#e76cb0" fill-opacity="0.6"/>
<line x1="195.80" y1="337.50" x2="195.80" y2="421.30" stroke="#3a3a3a" stroke-width="1" />
<line x1="192.30" y1="420.80" x2="195.80" y2="420.80" stroke="#3a3a3a" stroke-width="1" />
<text x="191.00" y="423.10" font-size="10.0" text-anchor="end" >0</text>
<line x1="192.30" y1="404.14" x2="195.80" y2="404.14" stroke="#3a3a3a" stroke-width="1" />
<text x="191.00" y="406.44" font-size="10.0" text-anchor="end" >2</text>
<line x1="192.30" y1="387.48" x2="195.80" y2="387.48" stroke="#3a3a3a" stroke-width="1" />
<text x="191.00" y="389.78" font-size="10.0" text-anchor="end" >4</text>
<line x1="192.30" y1="370.82" x2="195.80" y2="370.82" stroke="#3a3a3a" stroke-width="1" />
<text x="191.00" y="373.12" font-size="10.0" text-anchor="end" >6</text>
<line x1="192.30" y1="354.16" x2="195.80" y2="354.16" stroke="#3a3a3a" stroke-width="1" />
<text x="191.00" y="356.46" font-size="10.0" text-anchor="end" >8</text>
<line x1="192.30" y1="337.50" x2="195.80" y2="337.50" stroke="#3a3a3a" stroke-width="1" />
<text x="191.00" y="339.80" font-size="10.0" text-anchor="end" >10</text>
<text x="0" y="0" font-size="11.2" text-anchor="middle" transform="translate(176.10,378.30) rotate(-90)">Velocity (cm/s)</text>
<line x1="195.30" y1="420.80" x2="251.90" y2="420.80" stroke="#3a3a3a" stroke-width="1" />
<line x1="211.40" y1="420.80" x2="211.40" y2="424.30" stroke="#3a3a3a" stroke-width="1" />
<text x="211.40" y="434.80" font-size="10.0" text-anchor="middle" ></text>
<line x1="235.50" y1="420.80" x2="235.50" y2="424.30" stroke="#3a3a3a" stroke-width="1" />
<text x="235.50" y="434.80" font-size="10.0" text-anchor="middle" ></text>
<text x="214.05" y="432.70" font-size="11.2" text-anchor="middle" >Stim</text>
<text x="237.45" y="432.70" font-size="11.2" text-anchor="middle" >Post</text>
<polyline points="211.40,405.00 211.40,337.50 235.50,337.50 235.50,341.80" fill="none" stroke="#3a3a3a" stroke-width="1"/>
<polygon points="223.45,330.40 224.07,332.05 225.83,332.13 224.45,333.22 224.92,334.92 223.45,333.95 221.98,334.92 222.45,333.22 221.07,332.13 222.83,332.05" fill="#1a1a1a"/>
<rect x="283.00" y="339.20" width="17.40" height="81.50" fill="#c6e9fb"/>
<line x1="291.30" y1="404.89" x2="315.50" y2="414.46" stroke="#151515" stroke-width="0.65" />
<line x1="291.30" y1="412.80" x2="315.50" y2="403.23" stroke="#151515" stroke-width="0.65" />
<line x1="291.30" y1="415.29" x2="315.50" y2="415.71" stroke="#151515" stroke-width="0.65" />
<line x1="291.30" y1="416.12" x2="315.50" y2="416.12" stroke="#151515" stroke-width="0.65" />
<circle cx="291.30" cy="404.89" r="2.7" fill="#7d7d7d" fill-opacity="1"/>
<circle cx="291.30" cy="412.80" r="2.7" fill="#7d7d7d" fill-opacity="1"/>
<circle cx="291.30" cy="415.29" r="2.7" fill="#7d7d7d" fill-opacity="1"/>
<circle cx="291.30" cy="416.12" r="2.7" fill="#7d7d7d" fill-opacity="1"/>
<circle cx="315.50" cy="403.23" r="2.7" fill="#bdbdbd" fill-opacity="1"/>
<circle cx="315.50" cy="414.46" r="2.7" fill="#bdbdbd" fill-opacity="1"/>
<circle cx="315.50" cy="415.71" r="2.7" fill="#bdbdbd" fill-opacity="1"/>
<circle cx="315.50" cy="416.12" r="2.7" fill="#bdbdbd" fill-opacity="1"/>
<line x1="275.80" y1="337.50" x2="275.80" y2="421.20" stroke="#3a3a3a" stroke-width="1" />
<line x1="272.30" y1="420.70" x2="275.80" y2="420.70" stroke="#3a3a3a" stroke-width="1" />
<text x="271.00" y="423.00" font-size="10.0" text-anchor="end" >0</text>
<line x1="272.30" y1="404.06" x2="275.80" y2="404.06" stroke="#3a3a3a" stroke-width="1" />
<text x="271.00" y="406.36" font-size="10.0" text-anchor="end" >2</text>
<line x1="272.30" y1="387.42" x2="275.80" y2="387.42" stroke="#3a3a3a" stroke-width="1" />
<text x="271.00" y="389.72" font-size="10.0" text-anchor="end" >4</text>
<line x1="272.30" y1="370.78" x2="275.80" y2="370.78" stroke="#3a3a3a" stroke-width="1" />
<text x="271.00" y="373.08" font-size="10.0" text-anchor="end" >6</text>
<line x1="272.30" y1="354.14" x2="275.80" y2="354.14" stroke="#3a3a3a" stroke-width="1" />
<text x="271.00" y="356.44" font-size="10.0" text-anchor="end" >8</text>
<line x1="272.30" y1="337.50" x2="275.80" y2="337.50" stroke="#3a3a3a" stroke-width="1" />
<text x="271.00" y="339.80" font-size="10.0" text-anchor="end" >10</text>
<text x="0" y="0" font-size="11.2" text-anchor="middle" transform="translate(259.10,378.00) rotate(-90)">Velocity (cm/s)</text>
<line x1="275.30" y1="420.70" x2="331.50" y2="420.70" stroke="#3a3a3a" stroke-width="1" />
<line x1="291.30" y1="420.70" x2="291.30" y2="424.20" stroke="#3a3a3a" stroke-width="1" />
<text x="291.30" y="434.70" font-size="10.0" text-anchor="middle" ></text>
<line x1="315.50" y1="420.70" x2="315.50" y2="424.20" stroke="#3a3a3a" stroke-width="1" />
<text x="315.50" y="434.70" font-size="10.0" text-anchor="middle" ></text>
<text x="292.35" y="433.90" font-size="11.2" text-anchor="middle" >Stim</text>
<text x="315.85" y="433.90" font-size="11.2" text-anchor="middle" >Post</text>
<rect x="546.00" y="337.00" width="17.60" height="83.10" fill="#c6e9fb"/>
<line x1="554.30" y1="354.81" x2="578.40" y2="396.66" stroke="#151515" stroke-width="0.65" />
<line x1="554.30" y1="356.91" x2="578.40" y2="397.92" stroke="#151515" stroke-width="0.65" />
<line x1="554.30" y1="362.77" x2="578.40" y2="399.18" stroke="#151515" stroke-width="0.65" />
<line x1="554.30" y1="374.48" x2="578.40" y2="383.27" stroke="#151515" stroke-width="0.65" />
<line x1="554.30" y1="377.41" x2="578.40" y2="400.43" stroke="#151515" stroke-width="0.65" />
<line x1="554.30" y1="389.13" x2="578.40" y2="394.99" stroke="#151515" stroke-width="0.65" />
<line x1="554.30" y1="390.81" x2="578.40" y2="399.18" stroke="#151515" stroke-width="0.65" />
<line x1="554.30" y1="392.48" x2="578.40" y2="401.69" stroke="#151515" stroke-width="0.65" />
<line x1="554.30" y1="400.01" x2="578.40" y2="412.99" stroke="#151515" stroke-width="0.65" />
<line x1="554.30" y1="392.48" x2="578.40" y2="410.06" stroke="#151515" stroke-width="0.65" />
<line x1="554.30" y1="410.06" x2="578.40" y2="415.71" stroke="#151515" stroke-width="0.65" />
<circle cx="554.30" cy="354.81" r="2.7" fill="#2f9e4c" fill-opacity="1"/>
<circle cx="554.30" cy="356.91" r="2.7" fill="#2f9e4c" fill-opacity="1"/>
<circle cx="554.30" cy="362.77" r="2.7" fill="#2f9e4c" fill-opacity="1"/>
<circle cx="554.30" cy="374.48" r="2.7" fill="#2f9e4c" fill-opacity="1"/>
<circle cx="554.30" cy="377.41" r="2.7" fill="#2f9e4c" fill-opacity="1"/>
<circle cx="554.30" cy="389.13" r="2.7" fill="#2f9e4c" fill-opacity="1"/>
<circle cx="554.30" cy="390.81" r="2.7" fill="#2f9e4c" fill-opacity="1"/>
<circle cx="554.30" cy="392.48" r="2.7" fill="#2f9e4c" fill-opacity="1"/>
<circle cx="554.30" cy="400.01" r="2.7" fill="#2f9e4c" fill-opacity="1"/>
<circle cx="554.30" cy="410.06" r="2.7" fill="#2f9e4c" fill-opacity="1"/>
<circle cx="578.40" cy="383.27" r="2.7" fill="#66bb7d" fill-opacity="0.6"/>
<circle cx="578.40" cy="394.99" r="2.7" fill="#66bb7d" fill-opacity="0.6"/>
<circle cx="578.40" cy="396.66" r="2.7" fill="#66bb7d" fill-opacity="0.6"/>
<circle cx="578.40" cy="397.92" r="2.7" fill="#66bb7d" fill-opacity="0.6"/>
<circle cx="578.40" cy="399.18" r="2.7" fill="#66bb7d" fill-opacity="0.6"/>
<circle cx="578.40" cy="400.43" r="2.7" fill="#66bb7d" fill-opacity="0.6"/>
<circle cx="578.40" cy="401.69" r="2.7" fill="#66bb7d" fill-opacity="0.6"/>
<circle cx="578.40" cy="410.06" r="2.7" fill="#66bb7d" fill-opacity="0.6"/>
<circle cx="578.40" cy="412.99" r="2.7" fill="#66bb7d" fill-opacity="0.6"/>
<circle cx="578.40" cy="415.71" r="2.7" fill="#66bb7d" fill-opacity="0.6"/>
<line x1="538.40" y1="336.40" x2="538.40" y2="420.60" stroke="#3a3a3a" stroke-width="1" />
<line x1="534.90" y1="420.10" x2="538.40" y2="420.10" stroke="#3a3a3a" stroke-width="1" />
<text x="533.20" y="422.40" font-size="10.0" text-anchor="end" >0</text>
<line x1="534.90" y1="399.18" x2="538.40" y2="399.18" stroke="#3a3a3a" stroke-width="1" />
<text x="533.20" y="401.48" font-size="10.0" text-anchor="end" >5</text>
<line x1="534.90" y1="378.25" x2="538.40" y2="378.25" stroke="#3a3a3a" stroke-width="1" />
<text x="533.20" y="380.55" font-size="10.0" text-anchor="end" >10</text>
<line x1="534.90" y1="357.32" x2="538.40" y2="357.32" stroke="#3a3a3a" stroke-width="1" />
<text x="533.20" y="359.62" font-size="10.0" text-anchor="end" >15</text>
<line x1="534.90" y1="336.40" x2="538.40" y2="336.40" stroke="#3a3a3a" stroke-width="1" />
<text x="533.20" y="338.70" font-size="10.0" text-anchor="end" >20</text>
<text x="0" y="0" font-size="11.2" text-anchor="middle" transform="translate(521.10,378.10) rotate(-90)">Velocity (cm/s)</text>
<line x1="537.90" y1="420.10" x2="593.60" y2="420.10" stroke="#3a3a3a" stroke-width="1" />
<line x1="554.30" y1="420.10" x2="554.30" y2="423.60" stroke="#3a3a3a" stroke-width="1" />
<text x="554.30" y="434.10" font-size="10.0" text-anchor="middle" ></text>
<line x1="578.40" y1="420.10" x2="578.40" y2="423.60" stroke="#3a3a3a" stroke-width="1" />
<text x="578.40" y="434.10" font-size="10.0" text-anchor="middle" ></text>
<text x="555.50" y="432.70" font-size="11.2" text-anchor="middle" >Stim</text>
<text x="579.05" y="432.70" font-size="11.2" text-anchor="middle" >Post</text>
<polyline points="554.30,349.80 554.30,345.50 578.40,345.50 578.40,377.80" fill="none" stroke="#3a3a3a" stroke-width="1"/>
<polygon points="562.40,338.40 563.02,340.05 564.78,340.13 563.40,341.22 563.87,342.92 562.40,341.95 560.93,342.92 561.40,341.22 560.02,340.13 561.78,340.05" fill="#1a1a1a"/>
<polygon points="567.30,338.40 567.92,340.05 569.68,340.13 568.30,341.22 568.77,342.92 567.30,341.95 565.83,342.92 566.30,341.22 564.92,340.13 566.68,340.05" fill="#1a1a1a"/>
<rect x="635.90" y="336.90" width="17.50" height="83.40" fill="#c6e9fb"/>
<line x1="643.40" y1="371.22" x2="667.60" y2="377.51" stroke="#151515" stroke-width="0.65" />
<line x1="643.40" y1="371.64" x2="667.60" y2="386.74" stroke="#151515" stroke-width="0.65" />
<line x1="643.40" y1="395.13" x2="667.60" y2="371.22" stroke="#151515" stroke-width="0.65" />
<line x1="643.40" y1="395.13" x2="667.60" y2="379.61" stroke="#151515" stroke-width="0.65" />
<circle cx="643.40" cy="371.22" r="2.7" fill="#8c8c8c" fill-opacity="1"/>
<circle cx="643.40" cy="372.06" r="2.7" fill="#8c8c8c" fill-opacity="1"/>
<circle cx="643.40" cy="395.13" r="2.7" fill="#8c8c8c" fill-opacity="1"/>
<circle cx="667.60" cy="371.22" r="2.7" fill="#8c8c8c" fill-opacity="1"/>
<circle cx="667.60" cy="377.51" r="2.7" fill="#8c8c8c" fill-opacity="1"/>
<circle cx="667.60" cy="379.61" r="2.7" fill="#8c8c8c" fill-opacity="1"/>
<circle cx="667.60" cy="386.74" r="2.7" fill="#8c8c8c" fill-opacity="1"/>
<line x1="627.90" y1="336.40" x2="627.90" y2="420.80" stroke="#3a3a3a" stroke-width="1" />
<line x1="624.40" y1="420.30" x2="627.90" y2="420.30" stroke="#3a3a3a" stroke-width="1" />
<text x="622.70" y="422.60" font-size="10.0" text-anchor="end" >0</text>
<line x1="624.40" y1="399.32" x2="627.90" y2="399.32" stroke="#3a3a3a" stroke-width="1" />
<text x="622.70" y="401.62" font-size="10.0" text-anchor="end" >5</text>
<line x1="624.40" y1="378.35" x2="627.90" y2="378.35" stroke="#3a3a3a" stroke-width="1" />
<text x="622.70" y="380.65" font-size="10.0" text-anchor="end" >10</text>
<line x1="624.40" y1="357.38" x2="627.90" y2="357.38" stroke="#3a3a3a" stroke-width="1" />
<text x="622.70" y="359.68" font-size="10.0" text-anchor="end" >15</text>
<line x1="624.40" y1="336.40" x2="627.90" y2="336.40" stroke="#3a3a3a" stroke-width="1" />
<text x="622.70" y="338.70" font-size="10.0" text-anchor="end" >20</text>
<text x="0" y="0" font-size="11.2" text-anchor="middle" transform="translate(608.10,378.30) rotate(-90)">Velocity (cm/s)</text>
<line x1="627.40" y1="420.30" x2="683.50" y2="420.30" stroke="#3a3a3a" stroke-width="1" />
<line x1="643.40" y1="420.30" x2="643.40" y2="423.80" stroke="#3a3a3a" stroke-width="1" />
<text x="643.40" y="434.30" font-size="10.0" text-anchor="middle" ></text>
<line x1="667.60" y1="420.30" x2="667.60" y2="423.80" stroke="#3a3a3a" stroke-width="1" />
<text x="667.60" y="434.30" font-size="10.0" text-anchor="middle" ></text>
<text x="644.80" y="432.70" font-size="11.2" text-anchor="middle" >Stim</text>
<text x="668.35" y="432.70" font-size="11.2" text-anchor="middle" >Post</text>
</svg></body></html>
